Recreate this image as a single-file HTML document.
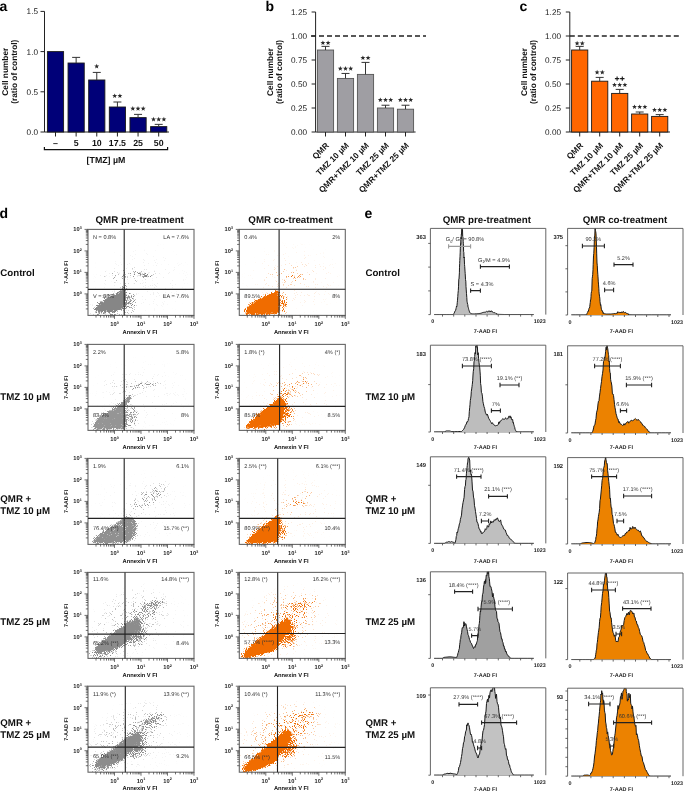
<!DOCTYPE html>
<html><head><meta charset="utf-8"><style>
html,body{margin:0;padding:0;background:#fff;}
body{width:685px;height:791px;overflow:hidden;}
svg{display:block;will-change:transform;}
text{font-family:"Liberation Sans",sans-serif;text-rendering:geometricPrecision;}
</style></head><body>
<svg width="685" height="791" viewBox="0 0 685 791">
<text x="-0.5" y="10.8" font-size="14" text-anchor="start" font-weight="bold" fill="#000" >a</text><text transform="translate(8.2,71.7) rotate(-90)" font-size="8.3" font-weight="bold" text-anchor="middle" fill="#111">Cell number</text><text transform="translate(17.4,71.7) rotate(-90)" font-size="8.3" font-weight="bold" text-anchor="middle" fill="#111">(ratio of control)</text><path d="M44.5 11.4V132H169" stroke="#222" stroke-width="1" fill="none"/><path d="M40.5 11.40H44.5" stroke="#222" stroke-width="1"/><text x="38" y="14.30" font-size="8.2" text-anchor="end" fill="#222" >1.5</text><path d="M40.5 51.60H44.5" stroke="#222" stroke-width="1"/><text x="38" y="54.50" font-size="8.2" text-anchor="end" fill="#222" >1.0</text><path d="M40.5 91.80H44.5" stroke="#222" stroke-width="1"/><text x="38" y="94.70" font-size="8.2" text-anchor="end" fill="#222" >0.5</text><path d="M40.5 132.00H44.5" stroke="#222" stroke-width="1"/><text x="38" y="134.90" font-size="8.2" text-anchor="end" fill="#222" >0.0</text><rect x="47.40" y="51.60" width="16.2" height="80.40" fill="#000078" stroke="#1a1a1a" stroke-width="0.9"/><path d="M55.50 132v4.5" stroke="#222" stroke-width="1"/><rect x="68.04" y="63.02" width="16.2" height="68.98" fill="#000078" stroke="#1a1a1a" stroke-width="0.9"/><path d="M76.14 63.02V57.39M72.14 57.39H80.14" stroke="#333" stroke-width="1"/><path d="M76.14 132v4.5" stroke="#222" stroke-width="1"/><rect x="88.68" y="79.98" width="16.2" height="52.02" fill="#000078" stroke="#1a1a1a" stroke-width="0.9"/><path d="M96.78 79.98V72.42M92.78 72.42H100.78" stroke="#333" stroke-width="1"/><path d="M96.78 132v4.5" stroke="#222" stroke-width="1"/><rect x="109.32" y="107.00" width="16.2" height="25.00" fill="#000078" stroke="#1a1a1a" stroke-width="0.9"/><path d="M117.42 107.00V102.01M113.42 102.01H121.42" stroke="#333" stroke-width="1"/><path d="M117.42 132v4.5" stroke="#222" stroke-width="1"/><rect x="129.96" y="117.61" width="16.2" height="14.39" fill="#000078" stroke="#1a1a1a" stroke-width="0.9"/><path d="M138.06 117.61V114.39M134.06 114.39H142.06" stroke="#333" stroke-width="1"/><path d="M138.06 132v4.5" stroke="#222" stroke-width="1"/><rect x="150.60" y="126.61" width="16.2" height="5.39" fill="#000078" stroke="#1a1a1a" stroke-width="0.9"/><path d="M158.70 126.61V124.36M154.70 124.36H162.70" stroke="#333" stroke-width="1"/><path d="M158.70 132v4.5" stroke="#222" stroke-width="1"/>
<polygon points="96.70,63.80 97.35,65.51 99.17,65.60 97.75,66.74 98.23,68.50 96.70,67.50 95.17,68.50 95.65,66.74 94.23,65.60 96.05,65.51" fill="#2a2a2a"/>
<polygon points="114.70,93.40 115.35,95.11 117.17,95.20 115.75,96.34 116.23,98.10 114.70,97.10 113.17,98.10 113.65,96.34 112.23,95.20 114.05,95.11" fill="#2a2a2a"/><polygon points="119.90,93.40 120.55,95.11 122.37,95.20 120.95,96.34 121.43,98.10 119.90,97.10 118.37,98.10 118.85,96.34 117.43,95.20 119.25,95.11" fill="#2a2a2a"/>
<polygon points="132.80,106.00 133.45,107.71 135.27,107.80 133.85,108.94 134.33,110.70 132.80,109.70 131.27,110.70 131.75,108.94 130.33,107.80 132.15,107.71" fill="#2a2a2a"/><polygon points="138.00,106.00 138.65,107.71 140.47,107.80 139.05,108.94 139.53,110.70 138.00,109.70 136.47,110.70 136.95,108.94 135.53,107.80 137.35,107.71" fill="#2a2a2a"/><polygon points="143.20,106.00 143.85,107.71 145.67,107.80 144.25,108.94 144.73,110.70 143.20,109.70 141.67,110.70 142.15,108.94 140.73,107.80 142.55,107.71" fill="#2a2a2a"/>
<polygon points="153.50,116.80 154.15,118.51 155.97,118.60 154.55,119.74 155.03,121.50 153.50,120.50 151.97,121.50 152.45,119.74 151.03,118.60 152.85,118.51" fill="#2a2a2a"/><polygon points="158.70,116.80 159.35,118.51 161.17,118.60 159.75,119.74 160.23,121.50 158.70,120.50 157.17,121.50 157.65,119.74 156.23,118.60 158.05,118.51" fill="#2a2a2a"/><polygon points="163.90,116.80 164.55,118.51 166.37,118.60 164.95,119.74 165.43,121.50 163.90,120.50 162.37,121.50 162.85,119.74 161.43,118.60 163.25,118.51" fill="#2a2a2a"/>
<text x="55.50" y="146.2" font-size="8.8" text-anchor="middle" font-weight="bold" fill="#111" >–</text>
<text x="76.14" y="146.2" font-size="8.8" text-anchor="middle" font-weight="bold" fill="#111" >5</text>
<text x="96.78" y="146.2" font-size="8.8" text-anchor="middle" font-weight="bold" fill="#111" >10</text>
<text x="117.42" y="146.2" font-size="8.8" text-anchor="middle" font-weight="bold" fill="#111" >17.5</text>
<text x="138.06" y="146.2" font-size="8.8" text-anchor="middle" font-weight="bold" fill="#111" >25</text>
<text x="158.70" y="146.2" font-size="8.8" text-anchor="middle" font-weight="bold" fill="#111" >50</text>
<path d="M44.4 147V149.6H167.6V147" stroke="#111" stroke-width="1.2" fill="none"/>
<text x="106" y="162.6" font-size="8.8" text-anchor="middle" font-weight="bold" fill="#111" >[TMZ] µM</text>
<text x="265.5" y="10.8" font-size="14" text-anchor="start" font-weight="bold" fill="#000" >b</text><text transform="translate(272.6,72.0) rotate(-90)" font-size="8.3" font-weight="bold" text-anchor="middle" fill="#111">Cell number</text><text transform="translate(282,72.0) rotate(-90)" font-size="8.3" font-weight="bold" text-anchor="middle" fill="#111">(ratio of control)</text><path d="M315.6 12V132H415.6" stroke="#222" stroke-width="1" fill="none"/><path d="M311.6 12.00H315.6" stroke="#222" stroke-width="1"/><text x="307" y="14.90" font-size="8.2" text-anchor="end" fill="#222" >1.25</text><path d="M311.6 36.00H315.6" stroke="#222" stroke-width="1"/><text x="307" y="38.90" font-size="8.2" text-anchor="end" fill="#222" >1.00</text><path d="M311.6 60.00H315.6" stroke="#222" stroke-width="1"/><text x="307" y="62.90" font-size="8.2" text-anchor="end" fill="#222" >0.75</text><path d="M311.6 84.00H315.6" stroke="#222" stroke-width="1"/><text x="307" y="86.90" font-size="8.2" text-anchor="end" fill="#222" >0.50</text><path d="M311.6 108.00H315.6" stroke="#222" stroke-width="1"/><text x="307" y="110.90" font-size="8.2" text-anchor="end" fill="#222" >0.25</text><path d="M311.6 132.00H315.6" stroke="#222" stroke-width="1"/><text x="307" y="134.90" font-size="8.2" text-anchor="end" fill="#222" >0.00</text><rect x="317.40" y="50.02" width="16.2" height="81.98" fill="#9f9ea3" stroke="#555" stroke-width="0.9"/><path d="M325.50 50.02V46.37M321.50 46.37H329.50" stroke="#333" stroke-width="1"/><path d="M325.50 132v4.5" stroke="#222" stroke-width="1"/><rect x="337.40" y="78.43" width="16.2" height="53.57" fill="#9f9ea3" stroke="#555" stroke-width="0.9"/><path d="M345.50 78.43V73.44M341.50 73.44H349.50" stroke="#333" stroke-width="1"/><path d="M345.50 132v4.5" stroke="#222" stroke-width="1"/><rect x="357.40" y="74.40" width="16.2" height="57.60" fill="#9f9ea3" stroke="#555" stroke-width="0.9"/><path d="M365.50 74.40V62.40M361.50 62.40H369.50" stroke="#333" stroke-width="1"/><path d="M365.50 132v4.5" stroke="#222" stroke-width="1"/><rect x="377.40" y="108.00" width="16.2" height="24.00" fill="#9f9ea3" stroke="#555" stroke-width="0.9"/><path d="M385.50 108.00V105.22M381.50 105.22H389.50" stroke="#333" stroke-width="1"/><path d="M385.50 132v4.5" stroke="#222" stroke-width="1"/><rect x="397.40" y="109.20" width="16.2" height="22.80" fill="#9f9ea3" stroke="#555" stroke-width="0.9"/><path d="M405.50 109.20V105.22M401.50 105.22H409.50" stroke="#333" stroke-width="1"/><path d="M405.50 132v4.5" stroke="#222" stroke-width="1"/><path d="M311 36H426" stroke="#222" stroke-width="1.4" stroke-dasharray="5,3"/><text transform="translate(329.50,146) rotate(-45)" font-size="8.3" font-weight="bold" text-anchor="end" fill="#111">QMR</text><text transform="translate(349.50,146) rotate(-45)" font-size="8.3" font-weight="bold" text-anchor="end" fill="#111">TMZ 10 µM</text><text transform="translate(369.50,146) rotate(-45)" font-size="8.3" font-weight="bold" text-anchor="end" fill="#111">QMR+TMZ 10 µM</text><text transform="translate(389.50,146) rotate(-45)" font-size="8.3" font-weight="bold" text-anchor="end" fill="#111">TMZ 25 µM</text><text transform="translate(409.50,146) rotate(-45)" font-size="8.3" font-weight="bold" text-anchor="end" fill="#111">QMR+TMZ 25 µM</text><polygon points="322.90,40.40 323.55,42.11 325.37,42.20 323.95,43.34 324.43,45.10 322.90,44.10 321.37,45.10 321.85,43.34 320.43,42.20 322.25,42.11" fill="#2a2a2a"/><polygon points="328.10,40.40 328.75,42.11 330.57,42.20 329.15,43.34 329.63,45.10 328.10,44.10 326.57,45.10 327.05,43.34 325.63,42.20 327.45,42.11" fill="#2a2a2a"/><polygon points="340.30,66.00 340.95,67.71 342.77,67.80 341.35,68.94 341.83,70.70 340.30,69.70 338.77,70.70 339.25,68.94 337.83,67.80 339.65,67.71" fill="#2a2a2a"/><polygon points="345.50,66.00 346.15,67.71 347.97,67.80 346.55,68.94 347.03,70.70 345.50,69.70 343.97,70.70 344.45,68.94 343.03,67.80 344.85,67.71" fill="#2a2a2a"/><polygon points="350.70,66.00 351.35,67.71 353.17,67.80 351.75,68.94 352.23,70.70 350.70,69.70 349.17,70.70 349.65,68.94 348.23,67.80 350.05,67.71" fill="#2a2a2a"/><polygon points="362.90,55.40 363.55,57.11 365.37,57.20 363.95,58.34 364.43,60.10 362.90,59.10 361.37,60.10 361.85,58.34 360.43,57.20 362.25,57.11" fill="#2a2a2a"/><polygon points="368.10,55.40 368.75,57.11 370.57,57.20 369.15,58.34 369.63,60.10 368.10,59.10 366.57,60.10 367.05,58.34 365.63,57.20 367.45,57.11" fill="#2a2a2a"/><polygon points="380.30,97.40 380.95,99.11 382.77,99.20 381.35,100.34 381.83,102.10 380.30,101.10 378.77,102.10 379.25,100.34 377.83,99.20 379.65,99.11" fill="#2a2a2a"/><polygon points="385.50,97.40 386.15,99.11 387.97,99.20 386.55,100.34 387.03,102.10 385.50,101.10 383.97,102.10 384.45,100.34 383.03,99.20 384.85,99.11" fill="#2a2a2a"/><polygon points="390.70,97.40 391.35,99.11 393.17,99.20 391.75,100.34 392.23,102.10 390.70,101.10 389.17,102.10 389.65,100.34 388.23,99.20 390.05,99.11" fill="#2a2a2a"/><polygon points="400.30,97.40 400.95,99.11 402.77,99.20 401.35,100.34 401.83,102.10 400.30,101.10 398.77,102.10 399.25,100.34 397.83,99.20 399.65,99.11" fill="#2a2a2a"/><polygon points="405.50,97.40 406.15,99.11 407.97,99.20 406.55,100.34 407.03,102.10 405.50,101.10 403.97,102.10 404.45,100.34 403.03,99.20 404.85,99.11" fill="#2a2a2a"/><polygon points="410.70,97.40 411.35,99.11 413.17,99.20 411.75,100.34 412.23,102.10 410.70,101.10 409.17,102.10 409.65,100.34 408.23,99.20 410.05,99.11" fill="#2a2a2a"/>
<text x="519.5" y="10.8" font-size="14" text-anchor="start" font-weight="bold" fill="#000" >c</text><text transform="translate(526.5,72.0) rotate(-90)" font-size="8.3" font-weight="bold" text-anchor="middle" fill="#111">Cell number</text><text transform="translate(536,72.0) rotate(-90)" font-size="8.3" font-weight="bold" text-anchor="middle" fill="#111">(ratio of control)</text><path d="M569.8 12V132H670" stroke="#222" stroke-width="1" fill="none"/><path d="M565.8 12.00H569.8" stroke="#222" stroke-width="1"/><text x="561" y="14.90" font-size="8.2" text-anchor="end" fill="#222" >1.25</text><path d="M565.8 36.00H569.8" stroke="#222" stroke-width="1"/><text x="561" y="38.90" font-size="8.2" text-anchor="end" fill="#222" >1.00</text><path d="M565.8 60.00H569.8" stroke="#222" stroke-width="1"/><text x="561" y="62.90" font-size="8.2" text-anchor="end" fill="#222" >0.75</text><path d="M565.8 84.00H569.8" stroke="#222" stroke-width="1"/><text x="561" y="86.90" font-size="8.2" text-anchor="end" fill="#222" >0.50</text><path d="M565.8 108.00H569.8" stroke="#222" stroke-width="1"/><text x="561" y="110.90" font-size="8.2" text-anchor="end" fill="#222" >0.25</text><path d="M565.8 132.00H569.8" stroke="#222" stroke-width="1"/><text x="561" y="134.90" font-size="8.2" text-anchor="end" fill="#222" >0.00</text><rect x="571.60" y="50.00" width="16.2" height="82.00" fill="#ff6600" stroke="#1a1a1a" stroke-width="0.9"/><path d="M579.70 50.00V46.40M575.70 46.40H583.70" stroke="#333" stroke-width="1"/><path d="M579.70 132v4.5" stroke="#222" stroke-width="1"/><rect x="591.60" y="81.20" width="16.2" height="50.80" fill="#ff6600" stroke="#1a1a1a" stroke-width="0.9"/><path d="M599.70 81.20V77.40M595.70 77.40H603.70" stroke="#333" stroke-width="1"/><path d="M599.70 132v4.5" stroke="#222" stroke-width="1"/><rect x="611.60" y="93.40" width="16.2" height="38.60" fill="#ff6600" stroke="#1a1a1a" stroke-width="0.9"/><path d="M619.70 93.40V89.40M615.70 89.40H623.70" stroke="#333" stroke-width="1"/><path d="M619.70 132v4.5" stroke="#222" stroke-width="1"/><rect x="631.60" y="114.00" width="16.2" height="18.00" fill="#ff6600" stroke="#1a1a1a" stroke-width="0.9"/><path d="M639.70 114.00V112.00M635.70 112.00H643.70" stroke="#333" stroke-width="1"/><path d="M639.70 132v4.5" stroke="#222" stroke-width="1"/><rect x="651.60" y="116.40" width="16.2" height="15.60" fill="#ff6600" stroke="#1a1a1a" stroke-width="0.9"/><path d="M659.70 116.40V114.60M655.70 114.60H663.70" stroke="#333" stroke-width="1"/><path d="M659.70 132v4.5" stroke="#222" stroke-width="1"/><path d="M569.8 36H681" stroke="#222" stroke-width="1.4" stroke-dasharray="5,3"/><text transform="translate(583.70,146) rotate(-45)" font-size="8.3" font-weight="bold" text-anchor="end" fill="#111">QMR</text><text transform="translate(603.70,146) rotate(-45)" font-size="8.3" font-weight="bold" text-anchor="end" fill="#111">TMZ 10 µM</text><text transform="translate(623.70,146) rotate(-45)" font-size="8.3" font-weight="bold" text-anchor="end" fill="#111">QMR+TMZ 10 µM</text><text transform="translate(643.70,146) rotate(-45)" font-size="8.3" font-weight="bold" text-anchor="end" fill="#111">TMZ 25 µM</text><text transform="translate(663.70,146) rotate(-45)" font-size="8.3" font-weight="bold" text-anchor="end" fill="#111">QMR+TMZ 25 µM</text><polygon points="577.10,40.80 577.75,42.51 579.57,42.60 578.15,43.74 578.63,45.50 577.10,44.50 575.57,45.50 576.05,43.74 574.63,42.60 576.45,42.51" fill="#2a2a2a"/><polygon points="582.30,40.80 582.95,42.51 584.77,42.60 583.35,43.74 583.83,45.50 582.30,44.50 580.77,45.50 581.25,43.74 579.83,42.60 581.65,42.51" fill="#2a2a2a"/><polygon points="597.10,69.80 597.75,71.51 599.57,71.60 598.15,72.74 598.63,74.50 597.10,73.50 595.57,74.50 596.05,72.74 594.63,71.60 596.45,71.51" fill="#2a2a2a"/><polygon points="602.30,69.80 602.95,71.51 604.77,71.60 603.35,72.74 603.83,74.50 602.30,73.50 600.77,74.50 601.25,72.74 599.83,71.60 601.65,71.51" fill="#2a2a2a"/><path d="M614.90 78.60h4.4M617.10 76.40v4.4" stroke="#1a1a1a" stroke-width="1.1"/><path d="M620.10 78.60h4.4M622.30 76.40v4.4" stroke="#1a1a1a" stroke-width="1.1"/><polygon points="614.50,82.40 615.15,84.11 616.97,84.20 615.55,85.34 616.03,87.10 614.50,86.10 612.97,87.10 613.45,85.34 612.03,84.20 613.85,84.11" fill="#2a2a2a"/><polygon points="619.70,82.40 620.35,84.11 622.17,84.20 620.75,85.34 621.23,87.10 619.70,86.10 618.17,87.10 618.65,85.34 617.23,84.20 619.05,84.11" fill="#2a2a2a"/><polygon points="624.90,82.40 625.55,84.11 627.37,84.20 625.95,85.34 626.43,87.10 624.90,86.10 623.37,87.10 623.85,85.34 622.43,84.20 624.25,84.11" fill="#2a2a2a"/><polygon points="634.50,104.40 635.15,106.11 636.97,106.20 635.55,107.34 636.03,109.10 634.50,108.10 632.97,109.10 633.45,107.34 632.03,106.20 633.85,106.11" fill="#2a2a2a"/><polygon points="639.70,104.40 640.35,106.11 642.17,106.20 640.75,107.34 641.23,109.10 639.70,108.10 638.17,109.10 638.65,107.34 637.23,106.20 639.05,106.11" fill="#2a2a2a"/><polygon points="644.90,104.40 645.55,106.11 647.37,106.20 645.95,107.34 646.43,109.10 644.90,108.10 643.37,109.10 643.85,107.34 642.43,106.20 644.25,106.11" fill="#2a2a2a"/><polygon points="654.50,107.40 655.15,109.11 656.97,109.20 655.55,110.34 656.03,112.10 654.50,111.10 652.97,112.10 653.45,110.34 652.03,109.20 653.85,109.11" fill="#2a2a2a"/><polygon points="659.70,107.40 660.35,109.11 662.17,109.20 660.75,110.34 661.23,112.10 659.70,111.10 658.17,112.10 658.65,110.34 657.23,109.20 659.05,109.11" fill="#2a2a2a"/><polygon points="664.90,107.40 665.55,109.11 667.37,109.20 665.95,110.34 666.43,112.10 664.90,111.10 663.37,112.10 663.85,110.34 662.43,109.20 664.25,109.11" fill="#2a2a2a"/>
<defs>
<radialGradient id="rg"><stop offset="0" stop-opacity="1"/><stop offset=".5" stop-opacity=".75"/><stop offset="1" stop-opacity="0"/></radialGradient>

<filter id="dt00" x="-5%" y="-5%" width="110%" height="110%" color-interpolation-filters="sRGB">
<feTurbulence type="fractalNoise" baseFrequency="1.1" numOctaves="1" seed="3" result="n"/>
<feColorMatrix in="n" type="matrix" values="0 0 0 0 0 0 0 0 0 0 0 0 0 0 0 2.6 0 0 0 -.8" result="na"/>
<feGaussianBlur in="SourceAlpha" stdDeviation="1.1" result="d"/>
<feComposite in="d" in2="na" operator="arithmetic" k1="0" k2="4.4" k3="-3.3" k4="0" result="m"/>
<feGaussianBlur in="m" stdDeviation=".55" result="mb"/>
<feFlood flood-color="#868686"/>
<feComposite in2="mb" operator="in"/>
</filter>
<filter id="dt01" x="-5%" y="-5%" width="110%" height="110%" color-interpolation-filters="sRGB">
<feTurbulence type="fractalNoise" baseFrequency="1.1" numOctaves="1" seed="4" result="n"/>
<feColorMatrix in="n" type="matrix" values="0 0 0 0 0 0 0 0 0 0 0 0 0 0 0 2.6 0 0 0 -.8" result="na"/>
<feGaussianBlur in="SourceAlpha" stdDeviation="1.1" result="d"/>
<feComposite in="d" in2="na" operator="arithmetic" k1="0" k2="4.4" k3="-3.3" k4="0" result="m"/>
<feGaussianBlur in="m" stdDeviation=".55" result="mb"/>
<feFlood flood-color="#f06c00"/>
<feComposite in2="mb" operator="in"/>
</filter>
<filter id="dt10" x="-5%" y="-5%" width="110%" height="110%" color-interpolation-filters="sRGB">
<feTurbulence type="fractalNoise" baseFrequency="1.1" numOctaves="1" seed="5" result="n"/>
<feColorMatrix in="n" type="matrix" values="0 0 0 0 0 0 0 0 0 0 0 0 0 0 0 2.6 0 0 0 -.8" result="na"/>
<feGaussianBlur in="SourceAlpha" stdDeviation="1.1" result="d"/>
<feComposite in="d" in2="na" operator="arithmetic" k1="0" k2="4.4" k3="-3.3" k4="0" result="m"/>
<feGaussianBlur in="m" stdDeviation=".55" result="mb"/>
<feFlood flood-color="#959595"/>
<feComposite in2="mb" operator="in"/>
</filter>
<filter id="dt11" x="-5%" y="-5%" width="110%" height="110%" color-interpolation-filters="sRGB">
<feTurbulence type="fractalNoise" baseFrequency="1.1" numOctaves="1" seed="6" result="n"/>
<feColorMatrix in="n" type="matrix" values="0 0 0 0 0 0 0 0 0 0 0 0 0 0 0 2.6 0 0 0 -.8" result="na"/>
<feGaussianBlur in="SourceAlpha" stdDeviation="1.1" result="d"/>
<feComposite in="d" in2="na" operator="arithmetic" k1="0" k2="4.4" k3="-3.3" k4="0" result="m"/>
<feGaussianBlur in="m" stdDeviation=".55" result="mb"/>
<feFlood flood-color="#f06c00"/>
<feComposite in2="mb" operator="in"/>
</filter>
<filter id="dt20" x="-5%" y="-5%" width="110%" height="110%" color-interpolation-filters="sRGB">
<feTurbulence type="fractalNoise" baseFrequency="1.1" numOctaves="1" seed="7" result="n"/>
<feColorMatrix in="n" type="matrix" values="0 0 0 0 0 0 0 0 0 0 0 0 0 0 0 2.6 0 0 0 -.8" result="na"/>
<feGaussianBlur in="SourceAlpha" stdDeviation="1.1" result="d"/>
<feComposite in="d" in2="na" operator="arithmetic" k1="0" k2="4.4" k3="-3.3" k4="0" result="m"/>
<feGaussianBlur in="m" stdDeviation=".55" result="mb"/>
<feFlood flood-color="#909090"/>
<feComposite in2="mb" operator="in"/>
</filter>
<filter id="dt21" x="-5%" y="-5%" width="110%" height="110%" color-interpolation-filters="sRGB">
<feTurbulence type="fractalNoise" baseFrequency="1.1" numOctaves="1" seed="8" result="n"/>
<feColorMatrix in="n" type="matrix" values="0 0 0 0 0 0 0 0 0 0 0 0 0 0 0 2.6 0 0 0 -.8" result="na"/>
<feGaussianBlur in="SourceAlpha" stdDeviation="1.1" result="d"/>
<feComposite in="d" in2="na" operator="arithmetic" k1="0" k2="4.4" k3="-3.3" k4="0" result="m"/>
<feGaussianBlur in="m" stdDeviation=".55" result="mb"/>
<feFlood flood-color="#f06c00"/>
<feComposite in2="mb" operator="in"/>
</filter>
<filter id="dt30" x="-5%" y="-5%" width="110%" height="110%" color-interpolation-filters="sRGB">
<feTurbulence type="fractalNoise" baseFrequency="1.1" numOctaves="1" seed="9" result="n"/>
<feColorMatrix in="n" type="matrix" values="0 0 0 0 0 0 0 0 0 0 0 0 0 0 0 2.6 0 0 0 -.8" result="na"/>
<feGaussianBlur in="SourceAlpha" stdDeviation="1.1" result="d"/>
<feComposite in="d" in2="na" operator="arithmetic" k1="0" k2="4.4" k3="-3.3" k4="0" result="m"/>
<feGaussianBlur in="m" stdDeviation=".55" result="mb"/>
<feFlood flood-color="#8c8c8c"/>
<feComposite in2="mb" operator="in"/>
</filter>
<filter id="dt31" x="-5%" y="-5%" width="110%" height="110%" color-interpolation-filters="sRGB">
<feTurbulence type="fractalNoise" baseFrequency="1.1" numOctaves="1" seed="10" result="n"/>
<feColorMatrix in="n" type="matrix" values="0 0 0 0 0 0 0 0 0 0 0 0 0 0 0 2.6 0 0 0 -.8" result="na"/>
<feGaussianBlur in="SourceAlpha" stdDeviation="1.1" result="d"/>
<feComposite in="d" in2="na" operator="arithmetic" k1="0" k2="4.4" k3="-3.3" k4="0" result="m"/>
<feGaussianBlur in="m" stdDeviation=".55" result="mb"/>
<feFlood flood-color="#f06c00"/>
<feComposite in2="mb" operator="in"/>
</filter>
<filter id="dt40" x="-5%" y="-5%" width="110%" height="110%" color-interpolation-filters="sRGB">
<feTurbulence type="fractalNoise" baseFrequency="1.1" numOctaves="1" seed="11" result="n"/>
<feColorMatrix in="n" type="matrix" values="0 0 0 0 0 0 0 0 0 0 0 0 0 0 0 2.6 0 0 0 -.8" result="na"/>
<feGaussianBlur in="SourceAlpha" stdDeviation="1.1" result="d"/>
<feComposite in="d" in2="na" operator="arithmetic" k1="0" k2="4.4" k3="-3.3" k4="0" result="m"/>
<feGaussianBlur in="m" stdDeviation=".55" result="mb"/>
<feFlood flood-color="#8c8c8c"/>
<feComposite in2="mb" operator="in"/>
</filter>
<filter id="dt41" x="-5%" y="-5%" width="110%" height="110%" color-interpolation-filters="sRGB">
<feTurbulence type="fractalNoise" baseFrequency="1.1" numOctaves="1" seed="12" result="n"/>
<feColorMatrix in="n" type="matrix" values="0 0 0 0 0 0 0 0 0 0 0 0 0 0 0 2.6 0 0 0 -.8" result="na"/>
<feGaussianBlur in="SourceAlpha" stdDeviation="1.1" result="d"/>
<feComposite in="d" in2="na" operator="arithmetic" k1="0" k2="4.4" k3="-3.3" k4="0" result="m"/>
<feGaussianBlur in="m" stdDeviation=".55" result="mb"/>
<feFlood flood-color="#f06c00"/>
<feComposite in2="mb" operator="in"/>
</filter>
</defs>
<clipPath id="sc00"><rect x="88" y="229.4" width="106" height="86"/></clipPath>
<g clip-path="url(#sc00)"><g filter="url(#dt00)"><rect x="88" y="229.4" width="106" height="86" fill="#000" opacity="0"/><polygon points="95,308.4 98,304.4 104,300.4 111,296.4 118,292.4 122,289.4 125,288.4 126,293.4 125,304.4 122,309.4 113,311.4 100,311.4 95,310.4" opacity="1"/><ellipse cx="0" cy="0" rx="20" ry="3" fill="url(#rg)" opacity="0.35" transform="translate(108,313.4) rotate(0)"/><ellipse cx="0" cy="0" rx="8" ry="14" fill="url(#rg)" opacity="0.5" transform="translate(129,302.4) rotate(0)"/><ellipse cx="0" cy="0" rx="32" ry="9" fill="url(#rg)" opacity="0.2" transform="translate(128,275.4) rotate(-3)"/><ellipse cx="0" cy="0" rx="11" ry="2.8" fill="url(#rg)" opacity="0.6" transform="translate(145,275.4) rotate(15)"/><ellipse cx="0" cy="0" rx="20" ry="11" fill="url(#rg)" opacity="0.4" transform="translate(108,304.4) rotate(-20)"/><ellipse cx="0" cy="0" rx="5" ry="4" fill="url(#rg)" opacity="0.5" transform="translate(124,287.4) rotate(0)"/><ellipse cx="0" cy="0" rx="55" ry="40" fill="url(#rg)" opacity="0.035" transform="translate(143,279.4) rotate(0)"/></g></g>
<rect x="88" y="229.4" width="106" height="86" fill="none" stroke="#666" stroke-width="1.1"/>
<path d="M124.2 229.4V315.4M88 289.4H194" stroke="#222" stroke-width="1.1"/>
<path d="M85.8 308.9H88M96 315.4v2.2M85.8 305.1H88M100.6 315.4v2.2M85.8 302.5H88M104 315.4v2.2M85.8 300.4H88M106.5 315.4v2.2M85.8 298.7H88M108.6 315.4v2.2M85.8 297.2H88M110.4 315.4v2.2M85.8 296H88M111.9 315.4v2.2M85.8 294.9H88M113.3 315.4v2.2M84.5 293.9H88M114.5 315.4v3.5M85.8 287.4H88M122.5 315.4v2.2M85.8 283.6H88M127.1 315.4v2.2M85.8 281H88M130.5 315.4v2.2M85.8 278.9H88M133 315.4v2.2M85.8 277.2H88M135.1 315.4v2.2M85.8 275.7H88M136.9 315.4v2.2M85.8 274.5H88M138.4 315.4v2.2M85.8 273.4H88M139.8 315.4v2.2M84.5 272.4H88M141 315.4v3.5M85.8 265.9H88M149 315.4v2.2M85.8 262.1H88M153.6 315.4v2.2M85.8 259.5H88M157 315.4v2.2M85.8 257.4H88M159.5 315.4v2.2M85.8 255.7H88M161.6 315.4v2.2M85.8 254.2H88M163.4 315.4v2.2M85.8 253H88M164.9 315.4v2.2M85.8 251.9H88M166.3 315.4v2.2M84.5 250.9H88M167.5 315.4v3.5M85.8 244.4H88M175.5 315.4v2.2M85.8 240.6H88M180.1 315.4v2.2M85.8 238H88M183.5 315.4v2.2M85.8 235.9H88M186 315.4v2.2M85.8 234.2H88M188.1 315.4v2.2M85.8 232.7H88M189.9 315.4v2.2M85.8 231.5H88M191.4 315.4v2.2M85.8 230.4H88M192.8 315.4v2.2M84.5 229.4H88M194 315.4v3.5" stroke="#333" stroke-width=".7"/>
<text x="81.7" y="295.9" font-size="5.7" font-weight="bold" text-anchor="end" fill="#222">10<tspan font-size="3.7" dy="-2.3">0</tspan></text>
<text x="114.5" y="325.9" font-size="5.7" font-weight="bold" text-anchor="middle" fill="#222">10<tspan font-size="3.7" dy="-2.3">0</tspan></text>
<text x="81.7" y="274.4" font-size="5.7" font-weight="bold" text-anchor="end" fill="#222">10<tspan font-size="3.7" dy="-2.3">1</tspan></text>
<text x="141" y="325.9" font-size="5.7" font-weight="bold" text-anchor="middle" fill="#222">10<tspan font-size="3.7" dy="-2.3">1</tspan></text>
<text x="81.7" y="252.9" font-size="5.7" font-weight="bold" text-anchor="end" fill="#222">10<tspan font-size="3.7" dy="-2.3">2</tspan></text>
<text x="167.5" y="325.9" font-size="5.7" font-weight="bold" text-anchor="middle" fill="#222">10<tspan font-size="3.7" dy="-2.3">2</tspan></text>
<text x="81.7" y="231.4" font-size="5.7" font-weight="bold" text-anchor="end" fill="#222">10<tspan font-size="3.7" dy="-2.3">3</tspan></text>
<text x="194" y="325.9" font-size="5.7" font-weight="bold" text-anchor="middle" fill="#222">10<tspan font-size="3.7" dy="-2.3">3</tspan></text>
<text x="140" y="333.6" font-size="5.75" font-weight="bold" text-anchor="middle" fill="#111">Annexin V FI</text>
<text transform="translate(67.8,272.4) rotate(-90)" font-size="5.5" font-weight="bold" text-anchor="middle" fill="#222">7-AAD FI</text>
<text x="93" y="239.4" font-size="5.6" fill="#333">N = 0.8%</text>
<text x="189" y="239.4" font-size="5.6" text-anchor="end" fill="#333">LA = 7.6%</text>
<text x="93" y="298.1" font-size="5.6" fill="#333">V = 88%</text>
<text x="189" y="298.1" font-size="5.6" text-anchor="end" fill="#333">EA = 7.6%</text>
<clipPath id="sc01"><rect x="239.3" y="229.4" width="106" height="86"/></clipPath>
<g clip-path="url(#sc01)"><g filter="url(#dt01)"><rect x="239.3" y="229.4" width="106" height="86" fill="#000" opacity="0"/><polygon points="245.3,309.4 249.3,305.4 256.3,300.4 265.3,295.9 274.3,291.4 278.8,290.4 278.8,313.4 264.3,314.4 247.3,314.4 245.3,313.4" opacity="1"/><ellipse cx="0" cy="0" rx="7" ry="13" fill="url(#rg)" opacity="0.45" transform="translate(282.3,303.4) rotate(0)"/><ellipse cx="0" cy="0" rx="28" ry="12" fill="url(#rg)" opacity="0.1" transform="translate(289.3,275.4) rotate(-10)"/><ellipse cx="0" cy="0" rx="10" ry="3.5" fill="url(#rg)" opacity="0.2" transform="translate(295.3,277.4) rotate(12)"/><ellipse cx="0" cy="0" rx="19" ry="10" fill="url(#rg)" opacity="0.4" transform="translate(261.3,305.4) rotate(-20)"/><ellipse cx="0" cy="0" rx="55" ry="40" fill="url(#rg)" opacity="0.035" transform="translate(294.3,279.4) rotate(0)"/></g></g>
<rect x="239.3" y="229.4" width="106" height="86" fill="none" stroke="#666" stroke-width="1.1"/>
<path d="M279.1 229.4V315.4M239.3 289.3H345.3" stroke="#222" stroke-width="1.1"/>
<path d="M237.1 308.9H239.3M247.3 315.4v2.2M237.1 305.1H239.3M251.9 315.4v2.2M237.1 302.5H239.3M255.3 315.4v2.2M237.1 300.4H239.3M257.8 315.4v2.2M237.1 298.7H239.3M259.9 315.4v2.2M237.1 297.2H239.3M261.7 315.4v2.2M237.1 296H239.3M263.2 315.4v2.2M237.1 294.9H239.3M264.6 315.4v2.2M235.8 293.9H239.3M265.8 315.4v3.5M237.1 287.4H239.3M273.8 315.4v2.2M237.1 283.6H239.3M278.4 315.4v2.2M237.1 281H239.3M281.8 315.4v2.2M237.1 278.9H239.3M284.3 315.4v2.2M237.1 277.2H239.3M286.4 315.4v2.2M237.1 275.7H239.3M288.2 315.4v2.2M237.1 274.5H239.3M289.7 315.4v2.2M237.1 273.4H239.3M291.1 315.4v2.2M235.8 272.4H239.3M292.3 315.4v3.5M237.1 265.9H239.3M300.3 315.4v2.2M237.1 262.1H239.3M304.9 315.4v2.2M237.1 259.5H239.3M308.3 315.4v2.2M237.1 257.4H239.3M310.8 315.4v2.2M237.1 255.7H239.3M312.9 315.4v2.2M237.1 254.2H239.3M314.7 315.4v2.2M237.1 253H239.3M316.2 315.4v2.2M237.1 251.9H239.3M317.6 315.4v2.2M235.8 250.9H239.3M318.8 315.4v3.5M237.1 244.4H239.3M326.8 315.4v2.2M237.1 240.6H239.3M331.4 315.4v2.2M237.1 238H239.3M334.8 315.4v2.2M237.1 235.9H239.3M337.3 315.4v2.2M237.1 234.2H239.3M339.4 315.4v2.2M237.1 232.7H239.3M341.2 315.4v2.2M237.1 231.5H239.3M342.7 315.4v2.2M237.1 230.4H239.3M344.1 315.4v2.2M235.8 229.4H239.3M345.3 315.4v3.5" stroke="#333" stroke-width=".7"/>
<text x="233" y="295.9" font-size="5.7" font-weight="bold" text-anchor="end" fill="#222">10<tspan font-size="3.7" dy="-2.3">0</tspan></text>
<text x="265.8" y="325.9" font-size="5.7" font-weight="bold" text-anchor="middle" fill="#222">10<tspan font-size="3.7" dy="-2.3">0</tspan></text>
<text x="233" y="274.4" font-size="5.7" font-weight="bold" text-anchor="end" fill="#222">10<tspan font-size="3.7" dy="-2.3">1</tspan></text>
<text x="292.3" y="325.9" font-size="5.7" font-weight="bold" text-anchor="middle" fill="#222">10<tspan font-size="3.7" dy="-2.3">1</tspan></text>
<text x="233" y="252.9" font-size="5.7" font-weight="bold" text-anchor="end" fill="#222">10<tspan font-size="3.7" dy="-2.3">2</tspan></text>
<text x="318.8" y="325.9" font-size="5.7" font-weight="bold" text-anchor="middle" fill="#222">10<tspan font-size="3.7" dy="-2.3">2</tspan></text>
<text x="233" y="231.4" font-size="5.7" font-weight="bold" text-anchor="end" fill="#222">10<tspan font-size="3.7" dy="-2.3">3</tspan></text>
<text x="345.3" y="325.9" font-size="5.7" font-weight="bold" text-anchor="middle" fill="#222">10<tspan font-size="3.7" dy="-2.3">3</tspan></text>
<text x="291.3" y="333.6" font-size="5.75" font-weight="bold" text-anchor="middle" fill="#111">Annexin V FI</text>
<text transform="translate(219.1,272.4) rotate(-90)" font-size="5.5" font-weight="bold" text-anchor="middle" fill="#222">7-AAD FI</text>
<text x="244.3" y="239.4" font-size="5.6" fill="#333">0.4%</text>
<text x="340.3" y="239.4" font-size="5.6" text-anchor="end" fill="#333">2%</text>
<text x="244.3" y="298" font-size="5.6" fill="#333">89.5%</text>
<text x="340.3" y="298" font-size="5.6" text-anchor="end" fill="#333">8%</text>
<clipPath id="sc10"><rect x="88" y="344.4" width="106" height="86"/></clipPath>
<g clip-path="url(#sc10)"><g filter="url(#dt10)"><rect x="88" y="344.4" width="106" height="86" fill="#000" opacity="0"/><polygon points="93,424.4 97,419.4 105,413.4 113,408.4 120,403.4 125,399.4 129,395.4 132,394.4 130,400.4 126,404.4 126,428.4 113,429.4 96,429.4 93,428.4" opacity="0.9"/><ellipse cx="0" cy="0" rx="10" ry="4" fill="url(#rg)" opacity="0.45" transform="translate(126,400.4) rotate(-40)"/><ellipse cx="0" cy="0" rx="9" ry="14" fill="url(#rg)" opacity="0.5" transform="translate(131,416.4) rotate(0)"/><ellipse cx="0" cy="0" rx="22" ry="6" fill="url(#rg)" opacity="0.28" transform="translate(143,385.4) rotate(-10)"/><ellipse cx="0" cy="0" rx="24" ry="14" fill="url(#rg)" opacity="0.08" transform="translate(123,386.4) rotate(0)"/><ellipse cx="0" cy="0" rx="19" ry="10" fill="url(#rg)" opacity="0.4" transform="translate(108,420.4) rotate(-20)"/><ellipse cx="0" cy="0" rx="55" ry="40" fill="url(#rg)" opacity="0.035" transform="translate(143,394.4) rotate(0)"/></g></g>
<rect x="88" y="344.4" width="106" height="86" fill="none" stroke="#666" stroke-width="1.1"/>
<path d="M124.2 344.4V430.4M88 406.2H194" stroke="#222" stroke-width="1.1"/>
<path d="M85.8 423.9H88M96 430.4v2.2M85.8 420.1H88M100.6 430.4v2.2M85.8 417.5H88M104 430.4v2.2M85.8 415.4H88M106.5 430.4v2.2M85.8 413.7H88M108.6 430.4v2.2M85.8 412.2H88M110.4 430.4v2.2M85.8 411H88M111.9 430.4v2.2M85.8 409.9H88M113.3 430.4v2.2M84.5 408.9H88M114.5 430.4v3.5M85.8 402.4H88M122.5 430.4v2.2M85.8 398.6H88M127.1 430.4v2.2M85.8 396H88M130.5 430.4v2.2M85.8 393.9H88M133 430.4v2.2M85.8 392.2H88M135.1 430.4v2.2M85.8 390.7H88M136.9 430.4v2.2M85.8 389.5H88M138.4 430.4v2.2M85.8 388.4H88M139.8 430.4v2.2M84.5 387.4H88M141 430.4v3.5M85.8 380.9H88M149 430.4v2.2M85.8 377.1H88M153.6 430.4v2.2M85.8 374.5H88M157 430.4v2.2M85.8 372.4H88M159.5 430.4v2.2M85.8 370.7H88M161.6 430.4v2.2M85.8 369.2H88M163.4 430.4v2.2M85.8 368H88M164.9 430.4v2.2M85.8 366.9H88M166.3 430.4v2.2M84.5 365.9H88M167.5 430.4v3.5M85.8 359.4H88M175.5 430.4v2.2M85.8 355.6H88M180.1 430.4v2.2M85.8 353H88M183.5 430.4v2.2M85.8 350.9H88M186 430.4v2.2M85.8 349.2H88M188.1 430.4v2.2M85.8 347.7H88M189.9 430.4v2.2M85.8 346.5H88M191.4 430.4v2.2M85.8 345.4H88M192.8 430.4v2.2M84.5 344.4H88M194 430.4v3.5" stroke="#333" stroke-width=".7"/>
<text x="81.7" y="410.9" font-size="5.7" font-weight="bold" text-anchor="end" fill="#222">10<tspan font-size="3.7" dy="-2.3">0</tspan></text>
<text x="114.5" y="440.9" font-size="5.7" font-weight="bold" text-anchor="middle" fill="#222">10<tspan font-size="3.7" dy="-2.3">0</tspan></text>
<text x="81.7" y="389.4" font-size="5.7" font-weight="bold" text-anchor="end" fill="#222">10<tspan font-size="3.7" dy="-2.3">1</tspan></text>
<text x="141" y="440.9" font-size="5.7" font-weight="bold" text-anchor="middle" fill="#222">10<tspan font-size="3.7" dy="-2.3">1</tspan></text>
<text x="81.7" y="367.9" font-size="5.7" font-weight="bold" text-anchor="end" fill="#222">10<tspan font-size="3.7" dy="-2.3">2</tspan></text>
<text x="167.5" y="440.9" font-size="5.7" font-weight="bold" text-anchor="middle" fill="#222">10<tspan font-size="3.7" dy="-2.3">2</tspan></text>
<text x="81.7" y="346.4" font-size="5.7" font-weight="bold" text-anchor="end" fill="#222">10<tspan font-size="3.7" dy="-2.3">3</tspan></text>
<text x="194" y="440.9" font-size="5.7" font-weight="bold" text-anchor="middle" fill="#222">10<tspan font-size="3.7" dy="-2.3">3</tspan></text>
<text x="140" y="448.6" font-size="5.75" font-weight="bold" text-anchor="middle" fill="#111">Annexin V FI</text>
<text transform="translate(67.8,387.4) rotate(-90)" font-size="5.5" font-weight="bold" text-anchor="middle" fill="#222">7-AAD FI</text>
<text x="93" y="353.6" font-size="5.6" fill="#333">2.2%</text>
<text x="189" y="353.6" font-size="5.6" text-anchor="end" fill="#333">5.8%</text>
<text x="93" y="417" font-size="5.6" fill="#333">83.9%</text>
<text x="189" y="417" font-size="5.6" text-anchor="end" fill="#333">8%</text>
<clipPath id="sc11"><rect x="239.3" y="344.4" width="106" height="86"/></clipPath>
<g clip-path="url(#sc11)"><g filter="url(#dt11)"><rect x="239.3" y="344.4" width="106" height="86" fill="#000" opacity="0"/><polygon points="245.3,426.4 251.3,420.4 259.3,413.4 267.3,407.4 274.3,401.4 279.6,396.9 283.3,398.4 285.3,406.4 283.3,416.4 279.6,424.4 264.3,426.4 245.3,428.4" opacity="1"/><ellipse cx="0" cy="0" rx="18" ry="4" fill="url(#rg)" opacity="0.5" transform="translate(263.3,426.4) rotate(0)"/><ellipse cx="0" cy="0" rx="20" ry="11" fill="url(#rg)" opacity="0.45" transform="translate(263.3,418.4) rotate(-35)"/><ellipse cx="0" cy="0" rx="9" ry="16" fill="url(#rg)" opacity="0.55" transform="translate(286.3,412.4) rotate(0)"/><ellipse cx="0" cy="0" rx="12" ry="7" fill="url(#rg)" opacity="0.3" transform="translate(286.3,393.4) rotate(-40)"/><ellipse cx="0" cy="0" rx="32" ry="14" fill="url(#rg)" opacity="0.13" transform="translate(293.3,386.4) rotate(-20)"/><ellipse cx="0" cy="0" rx="12" ry="5" fill="url(#rg)" opacity="0.1" transform="translate(303.3,382.4) rotate(-10)"/><ellipse cx="0" cy="0" rx="55" ry="40" fill="url(#rg)" opacity="0.035" transform="translate(294.3,394.4) rotate(0)"/></g></g>
<rect x="239.3" y="344.4" width="106" height="86" fill="none" stroke="#666" stroke-width="1.1"/>
<path d="M279.6 344.4V430.4M239.3 406.4H345.3" stroke="#222" stroke-width="1.1"/>
<path d="M237.1 423.9H239.3M247.3 430.4v2.2M237.1 420.1H239.3M251.9 430.4v2.2M237.1 417.5H239.3M255.3 430.4v2.2M237.1 415.4H239.3M257.8 430.4v2.2M237.1 413.7H239.3M259.9 430.4v2.2M237.1 412.2H239.3M261.7 430.4v2.2M237.1 411H239.3M263.2 430.4v2.2M237.1 409.9H239.3M264.6 430.4v2.2M235.8 408.9H239.3M265.8 430.4v3.5M237.1 402.4H239.3M273.8 430.4v2.2M237.1 398.6H239.3M278.4 430.4v2.2M237.1 396H239.3M281.8 430.4v2.2M237.1 393.9H239.3M284.3 430.4v2.2M237.1 392.2H239.3M286.4 430.4v2.2M237.1 390.7H239.3M288.2 430.4v2.2M237.1 389.5H239.3M289.7 430.4v2.2M237.1 388.4H239.3M291.1 430.4v2.2M235.8 387.4H239.3M292.3 430.4v3.5M237.1 380.9H239.3M300.3 430.4v2.2M237.1 377.1H239.3M304.9 430.4v2.2M237.1 374.5H239.3M308.3 430.4v2.2M237.1 372.4H239.3M310.8 430.4v2.2M237.1 370.7H239.3M312.9 430.4v2.2M237.1 369.2H239.3M314.7 430.4v2.2M237.1 368H239.3M316.2 430.4v2.2M237.1 366.9H239.3M317.6 430.4v2.2M235.8 365.9H239.3M318.8 430.4v3.5M237.1 359.4H239.3M326.8 430.4v2.2M237.1 355.6H239.3M331.4 430.4v2.2M237.1 353H239.3M334.8 430.4v2.2M237.1 350.9H239.3M337.3 430.4v2.2M237.1 349.2H239.3M339.4 430.4v2.2M237.1 347.7H239.3M341.2 430.4v2.2M237.1 346.5H239.3M342.7 430.4v2.2M237.1 345.4H239.3M344.1 430.4v2.2M235.8 344.4H239.3M345.3 430.4v3.5" stroke="#333" stroke-width=".7"/>
<text x="233" y="410.9" font-size="5.7" font-weight="bold" text-anchor="end" fill="#222">10<tspan font-size="3.7" dy="-2.3">0</tspan></text>
<text x="265.8" y="440.9" font-size="5.7" font-weight="bold" text-anchor="middle" fill="#222">10<tspan font-size="3.7" dy="-2.3">0</tspan></text>
<text x="233" y="389.4" font-size="5.7" font-weight="bold" text-anchor="end" fill="#222">10<tspan font-size="3.7" dy="-2.3">1</tspan></text>
<text x="292.3" y="440.9" font-size="5.7" font-weight="bold" text-anchor="middle" fill="#222">10<tspan font-size="3.7" dy="-2.3">1</tspan></text>
<text x="233" y="367.9" font-size="5.7" font-weight="bold" text-anchor="end" fill="#222">10<tspan font-size="3.7" dy="-2.3">2</tspan></text>
<text x="318.8" y="440.9" font-size="5.7" font-weight="bold" text-anchor="middle" fill="#222">10<tspan font-size="3.7" dy="-2.3">2</tspan></text>
<text x="233" y="346.4" font-size="5.7" font-weight="bold" text-anchor="end" fill="#222">10<tspan font-size="3.7" dy="-2.3">3</tspan></text>
<text x="345.3" y="440.9" font-size="5.7" font-weight="bold" text-anchor="middle" fill="#222">10<tspan font-size="3.7" dy="-2.3">3</tspan></text>
<text x="291.3" y="448.6" font-size="5.75" font-weight="bold" text-anchor="middle" fill="#111">Annexin V FI</text>
<text transform="translate(219.1,387.4) rotate(-90)" font-size="5.5" font-weight="bold" text-anchor="middle" fill="#222">7-AAD FI</text>
<text x="244.3" y="353.6" font-size="5.6" fill="#333">1.8% (*)</text>
<text x="340.3" y="353.6" font-size="5.6" text-anchor="end" fill="#333">4% (*)</text>
<text x="244.3" y="417.2" font-size="5.6" fill="#333">85.8%</text>
<text x="340.3" y="417.2" font-size="5.6" text-anchor="end" fill="#333">8.5%</text>
<clipPath id="sc20"><rect x="88" y="458.4" width="106" height="86"/></clipPath>
<g clip-path="url(#sc20)"><g filter="url(#dt20)"><rect x="88" y="458.4" width="106" height="86" fill="#000" opacity="0"/><polygon points="93,540.4 98,535.4 106,529.4 114,524.4 121,519.4 125,516.4 130,516.4 135,520.4 137,528.4 134,536.4 128,542.4 108,543.4 93,543.4" opacity="0.8"/><ellipse cx="0" cy="0" rx="20" ry="9" fill="url(#rg)" opacity="0.5" transform="translate(110,536.4) rotate(-20)"/><ellipse cx="0" cy="0" rx="8" ry="14" fill="url(#rg)" opacity="0.4" transform="translate(132,528.4) rotate(0)"/><ellipse cx="0" cy="0" rx="28" ry="12" fill="url(#rg)" opacity="0.24" transform="translate(148,498.4) rotate(-35)"/><ellipse cx="0" cy="0" rx="10" ry="5" fill="url(#rg)" opacity="0.15" transform="translate(156,492.4) rotate(-20)"/><ellipse cx="0" cy="0" rx="55" ry="40" fill="url(#rg)" opacity="0.035" transform="translate(143,508.4) rotate(0)"/></g></g>
<rect x="88" y="458.4" width="106" height="86" fill="none" stroke="#666" stroke-width="1.1"/>
<path d="M124.2 458.4V544.4M88 518.4H194" stroke="#222" stroke-width="1.1"/>
<path d="M85.8 537.9H88M96 544.4v2.2M85.8 534.1H88M100.6 544.4v2.2M85.8 531.5H88M104 544.4v2.2M85.8 529.4H88M106.5 544.4v2.2M85.8 527.7H88M108.6 544.4v2.2M85.8 526.2H88M110.4 544.4v2.2M85.8 525H88M111.9 544.4v2.2M85.8 523.9H88M113.3 544.4v2.2M84.5 522.9H88M114.5 544.4v3.5M85.8 516.4H88M122.5 544.4v2.2M85.8 512.6H88M127.1 544.4v2.2M85.8 510H88M130.5 544.4v2.2M85.8 507.9H88M133 544.4v2.2M85.8 506.2H88M135.1 544.4v2.2M85.8 504.7H88M136.9 544.4v2.2M85.8 503.5H88M138.4 544.4v2.2M85.8 502.4H88M139.8 544.4v2.2M84.5 501.4H88M141 544.4v3.5M85.8 494.9H88M149 544.4v2.2M85.8 491.1H88M153.6 544.4v2.2M85.8 488.5H88M157 544.4v2.2M85.8 486.4H88M159.5 544.4v2.2M85.8 484.7H88M161.6 544.4v2.2M85.8 483.2H88M163.4 544.4v2.2M85.8 482H88M164.9 544.4v2.2M85.8 480.9H88M166.3 544.4v2.2M84.5 479.9H88M167.5 544.4v3.5M85.8 473.4H88M175.5 544.4v2.2M85.8 469.6H88M180.1 544.4v2.2M85.8 467H88M183.5 544.4v2.2M85.8 464.9H88M186 544.4v2.2M85.8 463.2H88M188.1 544.4v2.2M85.8 461.7H88M189.9 544.4v2.2M85.8 460.5H88M191.4 544.4v2.2M85.8 459.4H88M192.8 544.4v2.2M84.5 458.4H88M194 544.4v3.5" stroke="#333" stroke-width=".7"/>
<text x="81.7" y="524.9" font-size="5.7" font-weight="bold" text-anchor="end" fill="#222">10<tspan font-size="3.7" dy="-2.3">0</tspan></text>
<text x="114.5" y="554.9" font-size="5.7" font-weight="bold" text-anchor="middle" fill="#222">10<tspan font-size="3.7" dy="-2.3">0</tspan></text>
<text x="81.7" y="503.4" font-size="5.7" font-weight="bold" text-anchor="end" fill="#222">10<tspan font-size="3.7" dy="-2.3">1</tspan></text>
<text x="141" y="554.9" font-size="5.7" font-weight="bold" text-anchor="middle" fill="#222">10<tspan font-size="3.7" dy="-2.3">1</tspan></text>
<text x="81.7" y="481.9" font-size="5.7" font-weight="bold" text-anchor="end" fill="#222">10<tspan font-size="3.7" dy="-2.3">2</tspan></text>
<text x="167.5" y="554.9" font-size="5.7" font-weight="bold" text-anchor="middle" fill="#222">10<tspan font-size="3.7" dy="-2.3">2</tspan></text>
<text x="81.7" y="460.4" font-size="5.7" font-weight="bold" text-anchor="end" fill="#222">10<tspan font-size="3.7" dy="-2.3">3</tspan></text>
<text x="194" y="554.9" font-size="5.7" font-weight="bold" text-anchor="middle" fill="#222">10<tspan font-size="3.7" dy="-2.3">3</tspan></text>
<text x="140" y="562.6" font-size="5.75" font-weight="bold" text-anchor="middle" fill="#111">Annexin V FI</text>
<text transform="translate(67.8,501.4) rotate(-90)" font-size="5.5" font-weight="bold" text-anchor="middle" fill="#222">7-AAD FI</text>
<text x="93" y="467.6" font-size="5.6" fill="#333">1.9%</text>
<text x="189" y="467.6" font-size="5.6" text-anchor="end" fill="#333">6.1%</text>
<text x="93" y="529.9" font-size="5.6" fill="#333">76.4% (**)</text>
<text x="189" y="529.9" font-size="5.6" text-anchor="end" fill="#333">15.7% (**)</text>
<clipPath id="sc21"><rect x="239.3" y="458.4" width="106" height="86"/></clipPath>
<g clip-path="url(#sc21)"><g filter="url(#dt21)"><rect x="239.3" y="458.4" width="106" height="86" fill="#000" opacity="0"/><polygon points="245.3,542.4 251.3,536.4 259.3,529.4 267.3,523.4 273.3,518.4 277.7,515.4 280.3,518.4 279.3,533.4 277.7,542.4 259.3,543.4 245.3,543.4" opacity="1"/><ellipse cx="0" cy="0" rx="20" ry="11" fill="url(#rg)" opacity="0.45" transform="translate(263.3,532.4) rotate(-30)"/><ellipse cx="0" cy="0" rx="7" ry="13" fill="url(#rg)" opacity="0.45" transform="translate(282.3,530.4) rotate(0)"/><ellipse cx="0" cy="0" rx="28" ry="10" fill="url(#rg)" opacity="0.15" transform="translate(295.3,502.4) rotate(-28)"/><ellipse cx="0" cy="0" rx="9" ry="3" fill="url(#rg)" opacity="0.22" transform="translate(301.3,501.4) rotate(0)"/><ellipse cx="0" cy="0" rx="55" ry="40" fill="url(#rg)" opacity="0.035" transform="translate(294.3,508.4) rotate(0)"/></g></g>
<rect x="239.3" y="458.4" width="106" height="86" fill="none" stroke="#666" stroke-width="1.1"/>
<path d="M277.7 458.4V544.4M239.3 518.4H345.3" stroke="#222" stroke-width="1.1"/>
<path d="M237.1 537.9H239.3M247.3 544.4v2.2M237.1 534.1H239.3M251.9 544.4v2.2M237.1 531.5H239.3M255.3 544.4v2.2M237.1 529.4H239.3M257.8 544.4v2.2M237.1 527.7H239.3M259.9 544.4v2.2M237.1 526.2H239.3M261.7 544.4v2.2M237.1 525H239.3M263.2 544.4v2.2M237.1 523.9H239.3M264.6 544.4v2.2M235.8 522.9H239.3M265.8 544.4v3.5M237.1 516.4H239.3M273.8 544.4v2.2M237.1 512.6H239.3M278.4 544.4v2.2M237.1 510H239.3M281.8 544.4v2.2M237.1 507.9H239.3M284.3 544.4v2.2M237.1 506.2H239.3M286.4 544.4v2.2M237.1 504.7H239.3M288.2 544.4v2.2M237.1 503.5H239.3M289.7 544.4v2.2M237.1 502.4H239.3M291.1 544.4v2.2M235.8 501.4H239.3M292.3 544.4v3.5M237.1 494.9H239.3M300.3 544.4v2.2M237.1 491.1H239.3M304.9 544.4v2.2M237.1 488.5H239.3M308.3 544.4v2.2M237.1 486.4H239.3M310.8 544.4v2.2M237.1 484.7H239.3M312.9 544.4v2.2M237.1 483.2H239.3M314.7 544.4v2.2M237.1 482H239.3M316.2 544.4v2.2M237.1 480.9H239.3M317.6 544.4v2.2M235.8 479.9H239.3M318.8 544.4v3.5M237.1 473.4H239.3M326.8 544.4v2.2M237.1 469.6H239.3M331.4 544.4v2.2M237.1 467H239.3M334.8 544.4v2.2M237.1 464.9H239.3M337.3 544.4v2.2M237.1 463.2H239.3M339.4 544.4v2.2M237.1 461.7H239.3M341.2 544.4v2.2M237.1 460.5H239.3M342.7 544.4v2.2M237.1 459.4H239.3M344.1 544.4v2.2M235.8 458.4H239.3M345.3 544.4v3.5" stroke="#333" stroke-width=".7"/>
<text x="233" y="524.9" font-size="5.7" font-weight="bold" text-anchor="end" fill="#222">10<tspan font-size="3.7" dy="-2.3">0</tspan></text>
<text x="265.8" y="554.9" font-size="5.7" font-weight="bold" text-anchor="middle" fill="#222">10<tspan font-size="3.7" dy="-2.3">0</tspan></text>
<text x="233" y="503.4" font-size="5.7" font-weight="bold" text-anchor="end" fill="#222">10<tspan font-size="3.7" dy="-2.3">1</tspan></text>
<text x="292.3" y="554.9" font-size="5.7" font-weight="bold" text-anchor="middle" fill="#222">10<tspan font-size="3.7" dy="-2.3">1</tspan></text>
<text x="233" y="481.9" font-size="5.7" font-weight="bold" text-anchor="end" fill="#222">10<tspan font-size="3.7" dy="-2.3">2</tspan></text>
<text x="318.8" y="554.9" font-size="5.7" font-weight="bold" text-anchor="middle" fill="#222">10<tspan font-size="3.7" dy="-2.3">2</tspan></text>
<text x="233" y="460.4" font-size="5.7" font-weight="bold" text-anchor="end" fill="#222">10<tspan font-size="3.7" dy="-2.3">3</tspan></text>
<text x="345.3" y="554.9" font-size="5.7" font-weight="bold" text-anchor="middle" fill="#222">10<tspan font-size="3.7" dy="-2.3">3</tspan></text>
<text x="291.3" y="562.6" font-size="5.75" font-weight="bold" text-anchor="middle" fill="#111">Annexin V FI</text>
<text transform="translate(219.1,501.4) rotate(-90)" font-size="5.5" font-weight="bold" text-anchor="middle" fill="#222">7-AAD FI</text>
<text x="244.3" y="467.6" font-size="5.6" fill="#333">2.5% (**)</text>
<text x="340.3" y="467.6" font-size="5.6" text-anchor="end" fill="#333">6.1% (***)</text>
<text x="244.3" y="529.9" font-size="5.6" fill="#333">80.9% (**)</text>
<text x="340.3" y="529.9" font-size="5.6" text-anchor="end" fill="#333">10.4%</text>
<clipPath id="sc30"><rect x="88" y="572.4" width="106" height="86"/></clipPath>
<g clip-path="url(#sc30)"><g filter="url(#dt30)"><rect x="88" y="572.4" width="106" height="86" fill="#000" opacity="0"/><polygon points="96,646.4 103,640.4 112,633.4 121,627.4 128,622.4 136,618.4 140,620.4 140,627.4 134,633.4 128,638.4 125,644.4 116,648.4 106,650.4 96,651.4" opacity="0.95"/><ellipse cx="0" cy="0" rx="22" ry="11" fill="url(#rg)" opacity="0.6" transform="translate(106,648.4) rotate(-25)"/><ellipse cx="0" cy="0" rx="16" ry="11" fill="url(#rg)" opacity="0.45" transform="translate(135,632.4) rotate(-35)"/><ellipse cx="0" cy="0" rx="14" ry="12" fill="url(#rg)" opacity="0.4" transform="translate(136,636.4) rotate(-20)"/><ellipse cx="0" cy="0" rx="28" ry="10" fill="url(#rg)" opacity="0.3" transform="translate(146,612.4) rotate(-32)"/><ellipse cx="0" cy="0" rx="14" ry="3.5" fill="url(#rg)" opacity="0.45" transform="translate(152,604.4) rotate(-15)"/><ellipse cx="0" cy="0" rx="50" ry="34" fill="url(#rg)" opacity="0.15" transform="translate(128,622.4) rotate(-35)"/><ellipse cx="0" cy="0" rx="55" ry="40" fill="url(#rg)" opacity="0.035" transform="translate(143,622.4) rotate(0)"/></g></g>
<rect x="88" y="572.4" width="106" height="86" fill="none" stroke="#666" stroke-width="1.1"/>
<path d="M125 572.4V658.4M88 634.1H194" stroke="#222" stroke-width="1.1"/>
<path d="M85.8 651.9H88M96 658.4v2.2M85.8 648.1H88M100.6 658.4v2.2M85.8 645.5H88M104 658.4v2.2M85.8 643.4H88M106.5 658.4v2.2M85.8 641.7H88M108.6 658.4v2.2M85.8 640.2H88M110.4 658.4v2.2M85.8 639H88M111.9 658.4v2.2M85.8 637.9H88M113.3 658.4v2.2M84.5 636.9H88M114.5 658.4v3.5M85.8 630.4H88M122.5 658.4v2.2M85.8 626.6H88M127.1 658.4v2.2M85.8 624H88M130.5 658.4v2.2M85.8 621.9H88M133 658.4v2.2M85.8 620.2H88M135.1 658.4v2.2M85.8 618.7H88M136.9 658.4v2.2M85.8 617.5H88M138.4 658.4v2.2M85.8 616.4H88M139.8 658.4v2.2M84.5 615.4H88M141 658.4v3.5M85.8 608.9H88M149 658.4v2.2M85.8 605.1H88M153.6 658.4v2.2M85.8 602.5H88M157 658.4v2.2M85.8 600.4H88M159.5 658.4v2.2M85.8 598.7H88M161.6 658.4v2.2M85.8 597.2H88M163.4 658.4v2.2M85.8 596H88M164.9 658.4v2.2M85.8 594.9H88M166.3 658.4v2.2M84.5 593.9H88M167.5 658.4v3.5M85.8 587.4H88M175.5 658.4v2.2M85.8 583.6H88M180.1 658.4v2.2M85.8 581H88M183.5 658.4v2.2M85.8 578.9H88M186 658.4v2.2M85.8 577.2H88M188.1 658.4v2.2M85.8 575.7H88M189.9 658.4v2.2M85.8 574.5H88M191.4 658.4v2.2M85.8 573.4H88M192.8 658.4v2.2M84.5 572.4H88M194 658.4v3.5" stroke="#333" stroke-width=".7"/>
<text x="81.7" y="638.9" font-size="5.7" font-weight="bold" text-anchor="end" fill="#222">10<tspan font-size="3.7" dy="-2.3">0</tspan></text>
<text x="114.5" y="668.9" font-size="5.7" font-weight="bold" text-anchor="middle" fill="#222">10<tspan font-size="3.7" dy="-2.3">0</tspan></text>
<text x="81.7" y="617.4" font-size="5.7" font-weight="bold" text-anchor="end" fill="#222">10<tspan font-size="3.7" dy="-2.3">1</tspan></text>
<text x="141" y="668.9" font-size="5.7" font-weight="bold" text-anchor="middle" fill="#222">10<tspan font-size="3.7" dy="-2.3">1</tspan></text>
<text x="81.7" y="595.9" font-size="5.7" font-weight="bold" text-anchor="end" fill="#222">10<tspan font-size="3.7" dy="-2.3">2</tspan></text>
<text x="167.5" y="668.9" font-size="5.7" font-weight="bold" text-anchor="middle" fill="#222">10<tspan font-size="3.7" dy="-2.3">2</tspan></text>
<text x="81.7" y="574.4" font-size="5.7" font-weight="bold" text-anchor="end" fill="#222">10<tspan font-size="3.7" dy="-2.3">3</tspan></text>
<text x="194" y="668.9" font-size="5.7" font-weight="bold" text-anchor="middle" fill="#222">10<tspan font-size="3.7" dy="-2.3">3</tspan></text>
<text x="140" y="676.6" font-size="5.75" font-weight="bold" text-anchor="middle" fill="#111">Annexin V FI</text>
<text transform="translate(67.8,615.4) rotate(-90)" font-size="5.5" font-weight="bold" text-anchor="middle" fill="#222">7-AAD FI</text>
<text x="93" y="581" font-size="5.6" fill="#333">11.6%</text>
<text x="189" y="581" font-size="5.6" text-anchor="end" fill="#333">14.8% (***)</text>
<text x="93" y="645" font-size="5.6" fill="#333">65.2% (**)</text>
<text x="189" y="645" font-size="5.6" text-anchor="end" fill="#333">8.4%</text>
<clipPath id="sc31"><rect x="239.3" y="572.4" width="106" height="86"/></clipPath>
<g clip-path="url(#sc31)"><g filter="url(#dt31)"><rect x="239.3" y="572.4" width="106" height="86" fill="#000" opacity="0"/><polygon points="243.3,654.4 249.3,647.4 257.3,640.4 265.3,633.4 273.3,627.4 280.3,622.4 287.3,618.4 291.3,622.4 289.3,630.4 284.3,636.4 279.3,642.4 277.3,649.4 269.3,652.4 259.3,655.4 247.3,657.4 243.3,657.4" opacity="1"/><ellipse cx="0" cy="0" rx="16" ry="8" fill="url(#rg)" opacity="0.55" transform="translate(251.3,652.4) rotate(-30)"/><ellipse cx="0" cy="0" rx="14" ry="11" fill="url(#rg)" opacity="0.5" transform="translate(287.3,632.4) rotate(-35)"/><ellipse cx="0" cy="0" rx="13" ry="12" fill="url(#rg)" opacity="0.4" transform="translate(287.3,638.4) rotate(-20)"/><ellipse cx="0" cy="0" rx="32" ry="14" fill="url(#rg)" opacity="0.18" transform="translate(295.3,612.4) rotate(-30)"/><ellipse cx="0" cy="0" rx="16" ry="5" fill="url(#rg)" opacity="0.14" transform="translate(303.3,604.4) rotate(-25)"/><ellipse cx="0" cy="0" rx="50" ry="32" fill="url(#rg)" opacity="0.15" transform="translate(279.3,622.4) rotate(-35)"/><ellipse cx="0" cy="0" rx="55" ry="40" fill="url(#rg)" opacity="0.035" transform="translate(294.3,622.4) rotate(0)"/></g></g>
<rect x="239.3" y="572.4" width="106" height="86" fill="none" stroke="#666" stroke-width="1.1"/>
<path d="M277.7 572.4V658.4M239.3 633.5H345.3" stroke="#222" stroke-width="1.1"/>
<path d="M237.1 651.9H239.3M247.3 658.4v2.2M237.1 648.1H239.3M251.9 658.4v2.2M237.1 645.5H239.3M255.3 658.4v2.2M237.1 643.4H239.3M257.8 658.4v2.2M237.1 641.7H239.3M259.9 658.4v2.2M237.1 640.2H239.3M261.7 658.4v2.2M237.1 639H239.3M263.2 658.4v2.2M237.1 637.9H239.3M264.6 658.4v2.2M235.8 636.9H239.3M265.8 658.4v3.5M237.1 630.4H239.3M273.8 658.4v2.2M237.1 626.6H239.3M278.4 658.4v2.2M237.1 624H239.3M281.8 658.4v2.2M237.1 621.9H239.3M284.3 658.4v2.2M237.1 620.2H239.3M286.4 658.4v2.2M237.1 618.7H239.3M288.2 658.4v2.2M237.1 617.5H239.3M289.7 658.4v2.2M237.1 616.4H239.3M291.1 658.4v2.2M235.8 615.4H239.3M292.3 658.4v3.5M237.1 608.9H239.3M300.3 658.4v2.2M237.1 605.1H239.3M304.9 658.4v2.2M237.1 602.5H239.3M308.3 658.4v2.2M237.1 600.4H239.3M310.8 658.4v2.2M237.1 598.7H239.3M312.9 658.4v2.2M237.1 597.2H239.3M314.7 658.4v2.2M237.1 596H239.3M316.2 658.4v2.2M237.1 594.9H239.3M317.6 658.4v2.2M235.8 593.9H239.3M318.8 658.4v3.5M237.1 587.4H239.3M326.8 658.4v2.2M237.1 583.6H239.3M331.4 658.4v2.2M237.1 581H239.3M334.8 658.4v2.2M237.1 578.9H239.3M337.3 658.4v2.2M237.1 577.2H239.3M339.4 658.4v2.2M237.1 575.7H239.3M341.2 658.4v2.2M237.1 574.5H239.3M342.7 658.4v2.2M237.1 573.4H239.3M344.1 658.4v2.2M235.8 572.4H239.3M345.3 658.4v3.5" stroke="#333" stroke-width=".7"/>
<text x="233" y="638.9" font-size="5.7" font-weight="bold" text-anchor="end" fill="#222">10<tspan font-size="3.7" dy="-2.3">0</tspan></text>
<text x="265.8" y="668.9" font-size="5.7" font-weight="bold" text-anchor="middle" fill="#222">10<tspan font-size="3.7" dy="-2.3">0</tspan></text>
<text x="233" y="617.4" font-size="5.7" font-weight="bold" text-anchor="end" fill="#222">10<tspan font-size="3.7" dy="-2.3">1</tspan></text>
<text x="292.3" y="668.9" font-size="5.7" font-weight="bold" text-anchor="middle" fill="#222">10<tspan font-size="3.7" dy="-2.3">1</tspan></text>
<text x="233" y="595.9" font-size="5.7" font-weight="bold" text-anchor="end" fill="#222">10<tspan font-size="3.7" dy="-2.3">2</tspan></text>
<text x="318.8" y="668.9" font-size="5.7" font-weight="bold" text-anchor="middle" fill="#222">10<tspan font-size="3.7" dy="-2.3">2</tspan></text>
<text x="233" y="574.4" font-size="5.7" font-weight="bold" text-anchor="end" fill="#222">10<tspan font-size="3.7" dy="-2.3">3</tspan></text>
<text x="345.3" y="668.9" font-size="5.7" font-weight="bold" text-anchor="middle" fill="#222">10<tspan font-size="3.7" dy="-2.3">3</tspan></text>
<text x="291.3" y="676.6" font-size="5.75" font-weight="bold" text-anchor="middle" fill="#111">Annexin V FI</text>
<text transform="translate(219.1,615.4) rotate(-90)" font-size="5.5" font-weight="bold" text-anchor="middle" fill="#222">7-AAD FI</text>
<text x="244.3" y="581" font-size="5.6" fill="#333">12.8% (*)</text>
<text x="340.3" y="581" font-size="5.6" text-anchor="end" fill="#333">16.2% (***)</text>
<text x="244.3" y="644.4" font-size="5.6" fill="#333">57.7% (****)</text>
<text x="340.3" y="644.4" font-size="5.6" text-anchor="end" fill="#333">13.3%</text>
<clipPath id="sc40"><rect x="88" y="686.2" width="106" height="86"/></clipPath>
<g clip-path="url(#sc40)"><g filter="url(#dt40)"><rect x="88" y="686.2" width="106" height="86" fill="#000" opacity="0"/><polygon points="96,762.2 103,756.2 112,749.2 121,742.2 129,736.2 138,731.2 141,734.2 140,741.2 134,747.2 128,753.2 124,759.2 116,763.2 106,766.2 96,767.2" opacity="0.95"/><ellipse cx="0" cy="0" rx="20" ry="10" fill="url(#rg)" opacity="0.6" transform="translate(104,764.2) rotate(-28)"/><ellipse cx="0" cy="0" rx="16" ry="11" fill="url(#rg)" opacity="0.45" transform="translate(136,744.2) rotate(-35)"/><ellipse cx="0" cy="0" rx="14" ry="12" fill="url(#rg)" opacity="0.4" transform="translate(136,750.2) rotate(-20)"/><ellipse cx="0" cy="0" rx="28" ry="10" fill="url(#rg)" opacity="0.3" transform="translate(146,726.2) rotate(-30)"/><ellipse cx="0" cy="0" rx="14" ry="3.5" fill="url(#rg)" opacity="0.45" transform="translate(154,719.2) rotate(-15)"/><ellipse cx="0" cy="0" rx="50" ry="32" fill="url(#rg)" opacity="0.15" transform="translate(128,736.2) rotate(-35)"/><ellipse cx="0" cy="0" rx="55" ry="40" fill="url(#rg)" opacity="0.035" transform="translate(143,736.2) rotate(0)"/></g></g>
<rect x="88" y="686.2" width="106" height="86" fill="none" stroke="#666" stroke-width="1.1"/>
<path d="M125.3 686.2V772.2M88 747.1H194" stroke="#222" stroke-width="1.1"/>
<path d="M85.8 765.7H88M96 772.2v2.2M85.8 761.9H88M100.6 772.2v2.2M85.8 759.3H88M104 772.2v2.2M85.8 757.2H88M106.5 772.2v2.2M85.8 755.5H88M108.6 772.2v2.2M85.8 754H88M110.4 772.2v2.2M85.8 752.8H88M111.9 772.2v2.2M85.8 751.7H88M113.3 772.2v2.2M84.5 750.7H88M114.5 772.2v3.5M85.8 744.2H88M122.5 772.2v2.2M85.8 740.4H88M127.1 772.2v2.2M85.8 737.8H88M130.5 772.2v2.2M85.8 735.7H88M133 772.2v2.2M85.8 734H88M135.1 772.2v2.2M85.8 732.5H88M136.9 772.2v2.2M85.8 731.3H88M138.4 772.2v2.2M85.8 730.2H88M139.8 772.2v2.2M84.5 729.2H88M141 772.2v3.5M85.8 722.7H88M149 772.2v2.2M85.8 718.9H88M153.6 772.2v2.2M85.8 716.3H88M157 772.2v2.2M85.8 714.2H88M159.5 772.2v2.2M85.8 712.5H88M161.6 772.2v2.2M85.8 711H88M163.4 772.2v2.2M85.8 709.8H88M164.9 772.2v2.2M85.8 708.7H88M166.3 772.2v2.2M84.5 707.7H88M167.5 772.2v3.5M85.8 701.2H88M175.5 772.2v2.2M85.8 697.4H88M180.1 772.2v2.2M85.8 694.8H88M183.5 772.2v2.2M85.8 692.7H88M186 772.2v2.2M85.8 691H88M188.1 772.2v2.2M85.8 689.5H88M189.9 772.2v2.2M85.8 688.3H88M191.4 772.2v2.2M85.8 687.2H88M192.8 772.2v2.2M84.5 686.2H88M194 772.2v3.5" stroke="#333" stroke-width=".7"/>
<text x="81.7" y="752.7" font-size="5.7" font-weight="bold" text-anchor="end" fill="#222">10<tspan font-size="3.7" dy="-2.3">0</tspan></text>
<text x="114.5" y="782.7" font-size="5.7" font-weight="bold" text-anchor="middle" fill="#222">10<tspan font-size="3.7" dy="-2.3">0</tspan></text>
<text x="81.7" y="731.2" font-size="5.7" font-weight="bold" text-anchor="end" fill="#222">10<tspan font-size="3.7" dy="-2.3">1</tspan></text>
<text x="141" y="782.7" font-size="5.7" font-weight="bold" text-anchor="middle" fill="#222">10<tspan font-size="3.7" dy="-2.3">1</tspan></text>
<text x="81.7" y="709.7" font-size="5.7" font-weight="bold" text-anchor="end" fill="#222">10<tspan font-size="3.7" dy="-2.3">2</tspan></text>
<text x="167.5" y="782.7" font-size="5.7" font-weight="bold" text-anchor="middle" fill="#222">10<tspan font-size="3.7" dy="-2.3">2</tspan></text>
<text x="81.7" y="688.2" font-size="5.7" font-weight="bold" text-anchor="end" fill="#222">10<tspan font-size="3.7" dy="-2.3">3</tspan></text>
<text x="194" y="782.7" font-size="5.7" font-weight="bold" text-anchor="middle" fill="#222">10<tspan font-size="3.7" dy="-2.3">3</tspan></text>
<text x="140" y="790.4" font-size="5.75" font-weight="bold" text-anchor="middle" fill="#111">Annexin V FI</text>
<text transform="translate(67.8,729.2) rotate(-90)" font-size="5.5" font-weight="bold" text-anchor="middle" fill="#222">7-AAD FI</text>
<text x="93" y="695.6" font-size="5.6" fill="#333">11.9% (*)</text>
<text x="189" y="695.6" font-size="5.6" text-anchor="end" fill="#333">13.9% (**)</text>
<text x="93" y="758.3" font-size="5.6" fill="#333">65.0% (**)</text>
<text x="189" y="758.3" font-size="5.6" text-anchor="end" fill="#333">9.2%</text>
<clipPath id="sc41"><rect x="239.3" y="686.2" width="106" height="86"/></clipPath>
<g clip-path="url(#sc41)"><g filter="url(#dt41)"><rect x="239.3" y="686.2" width="106" height="86" fill="#000" opacity="0"/><polygon points="243.3,768.2 249.3,761.2 257.3,754.2 265.3,747.2 273.3,740.2 280.3,734.2 287.3,729.2 291.3,733.2 289.3,742.2 284.3,748.2 279.3,754.2 277.3,761.2 269.3,765.2 259.3,769.2 247.3,771.2 243.3,771.2" opacity="1"/><ellipse cx="0" cy="0" rx="16" ry="8" fill="url(#rg)" opacity="0.55" transform="translate(251.3,766.2) rotate(-30)"/><ellipse cx="0" cy="0" rx="14" ry="11" fill="url(#rg)" opacity="0.5" transform="translate(287.3,744.2) rotate(-35)"/><ellipse cx="0" cy="0" rx="13" ry="12" fill="url(#rg)" opacity="0.4" transform="translate(287.3,750.2) rotate(-20)"/><ellipse cx="0" cy="0" rx="32" ry="14" fill="url(#rg)" opacity="0.18" transform="translate(295.3,724.2) rotate(-30)"/><ellipse cx="0" cy="0" rx="16" ry="5" fill="url(#rg)" opacity="0.14" transform="translate(303.3,716.2) rotate(-25)"/><ellipse cx="0" cy="0" rx="50" ry="32" fill="url(#rg)" opacity="0.15" transform="translate(279.3,736.2) rotate(-35)"/><ellipse cx="0" cy="0" rx="55" ry="40" fill="url(#rg)" opacity="0.035" transform="translate(294.3,736.2) rotate(0)"/></g></g>
<rect x="239.3" y="686.2" width="106" height="86" fill="none" stroke="#666" stroke-width="1.1"/>
<path d="M277.5 686.2V772.2M239.3 747.4H345.3" stroke="#222" stroke-width="1.1"/>
<path d="M237.1 765.7H239.3M247.3 772.2v2.2M237.1 761.9H239.3M251.9 772.2v2.2M237.1 759.3H239.3M255.3 772.2v2.2M237.1 757.2H239.3M257.8 772.2v2.2M237.1 755.5H239.3M259.9 772.2v2.2M237.1 754H239.3M261.7 772.2v2.2M237.1 752.8H239.3M263.2 772.2v2.2M237.1 751.7H239.3M264.6 772.2v2.2M235.8 750.7H239.3M265.8 772.2v3.5M237.1 744.2H239.3M273.8 772.2v2.2M237.1 740.4H239.3M278.4 772.2v2.2M237.1 737.8H239.3M281.8 772.2v2.2M237.1 735.7H239.3M284.3 772.2v2.2M237.1 734H239.3M286.4 772.2v2.2M237.1 732.5H239.3M288.2 772.2v2.2M237.1 731.3H239.3M289.7 772.2v2.2M237.1 730.2H239.3M291.1 772.2v2.2M235.8 729.2H239.3M292.3 772.2v3.5M237.1 722.7H239.3M300.3 772.2v2.2M237.1 718.9H239.3M304.9 772.2v2.2M237.1 716.3H239.3M308.3 772.2v2.2M237.1 714.2H239.3M310.8 772.2v2.2M237.1 712.5H239.3M312.9 772.2v2.2M237.1 711H239.3M314.7 772.2v2.2M237.1 709.8H239.3M316.2 772.2v2.2M237.1 708.7H239.3M317.6 772.2v2.2M235.8 707.7H239.3M318.8 772.2v3.5M237.1 701.2H239.3M326.8 772.2v2.2M237.1 697.4H239.3M331.4 772.2v2.2M237.1 694.8H239.3M334.8 772.2v2.2M237.1 692.7H239.3M337.3 772.2v2.2M237.1 691H239.3M339.4 772.2v2.2M237.1 689.5H239.3M341.2 772.2v2.2M237.1 688.3H239.3M342.7 772.2v2.2M237.1 687.2H239.3M344.1 772.2v2.2M235.8 686.2H239.3M345.3 772.2v3.5" stroke="#333" stroke-width=".7"/>
<text x="233" y="752.7" font-size="5.7" font-weight="bold" text-anchor="end" fill="#222">10<tspan font-size="3.7" dy="-2.3">0</tspan></text>
<text x="265.8" y="782.7" font-size="5.7" font-weight="bold" text-anchor="middle" fill="#222">10<tspan font-size="3.7" dy="-2.3">0</tspan></text>
<text x="233" y="731.2" font-size="5.7" font-weight="bold" text-anchor="end" fill="#222">10<tspan font-size="3.7" dy="-2.3">1</tspan></text>
<text x="292.3" y="782.7" font-size="5.7" font-weight="bold" text-anchor="middle" fill="#222">10<tspan font-size="3.7" dy="-2.3">1</tspan></text>
<text x="233" y="709.7" font-size="5.7" font-weight="bold" text-anchor="end" fill="#222">10<tspan font-size="3.7" dy="-2.3">2</tspan></text>
<text x="318.8" y="782.7" font-size="5.7" font-weight="bold" text-anchor="middle" fill="#222">10<tspan font-size="3.7" dy="-2.3">2</tspan></text>
<text x="233" y="688.2" font-size="5.7" font-weight="bold" text-anchor="end" fill="#222">10<tspan font-size="3.7" dy="-2.3">3</tspan></text>
<text x="345.3" y="782.7" font-size="5.7" font-weight="bold" text-anchor="middle" fill="#222">10<tspan font-size="3.7" dy="-2.3">3</tspan></text>
<text x="291.3" y="790.4" font-size="5.75" font-weight="bold" text-anchor="middle" fill="#111">Annexin V FI</text>
<text transform="translate(219.1,729.2) rotate(-90)" font-size="5.5" font-weight="bold" text-anchor="middle" fill="#222">7-AAD FI</text>
<text x="244.3" y="695.6" font-size="5.6" fill="#333">10.4% (*)</text>
<text x="340.3" y="695.6" font-size="5.6" text-anchor="end" fill="#333">11.3% (**)</text>
<text x="244.3" y="758.6" font-size="5.6" fill="#333">66.5% (**)</text>
<text x="340.3" y="758.6" font-size="5.6" text-anchor="end" fill="#333">11.5%</text>
<text x="-0.6" y="218.3" font-size="14" font-weight="bold" fill="#000">d</text>
<text x="364.6" y="217.8" font-size="14" font-weight="bold" fill="#000">e</text>
<text x="139.7" y="223" font-size="9.75" font-weight="bold" text-anchor="middle" fill="#111">QMR pre-treatment</text>
<text x="290.6" y="223" font-size="9.75" font-weight="bold" text-anchor="middle" fill="#111">QMR co-treatment</text>
<text x="486.8" y="223" font-size="9.75" font-weight="bold" text-anchor="middle" fill="#111">QMR pre-treatment</text>
<text x="625" y="223" font-size="9.75" font-weight="bold" text-anchor="middle" fill="#111">QMR co-treatment</text>
<text x="0.3" y="276.4" font-size="9.7" font-weight="bold" fill="#111">Control</text>
<text x="0.3" y="399.6" font-size="9.7" font-weight="bold" fill="#111">TMZ 10 µM</text>
<text x="0.3" y="502.3" font-size="9.7" font-weight="bold" fill="#111">QMR +</text>
<text x="0.3" y="514.2" font-size="9.7" font-weight="bold" fill="#111">TMZ 10 µM</text>
<text x="0.3" y="625.3" font-size="9.7" font-weight="bold" fill="#111">TMZ 25 µM</text>
<text x="0.3" y="725.8" font-size="9.7" font-weight="bold" fill="#111">QMR +</text>
<text x="0.3" y="737.7" font-size="9.7" font-weight="bold" fill="#111">TMZ 25 µM</text>
<text x="365.4" y="276.4" font-size="9.7" font-weight="bold" fill="#111">Control</text>
<text x="365.4" y="399.6" font-size="9.7" font-weight="bold" fill="#111">TMZ 10 µM</text>
<text x="365.4" y="502.3" font-size="9.7" font-weight="bold" fill="#111">QMR +</text>
<text x="365.4" y="514.2" font-size="9.7" font-weight="bold" fill="#111">TMZ 10 µM</text>
<text x="365.4" y="625.3" font-size="9.7" font-weight="bold" fill="#111">TMZ 25 µM</text>
<text x="365.4" y="725.8" font-size="9.7" font-weight="bold" fill="#111">QMR +</text>
<text x="365.4" y="737.7" font-size="9.7" font-weight="bold" fill="#111">TMZ 25 µM</text>
<clipPath id="hc00"><rect x="430.4" y="228.4" width="115.4" height="86.2"/></clipPath>
<path d="M434.1 314.6H533.8" stroke="#888" stroke-width="1"/>
<g clip-path="url(#hc00)"><path d="M434.1,314.6 436.2,314.6 439.3,314.6 442.9,314.6 446.5,314.6 449.7,314.6 452,314.6 453.3,314.5 453.8,314.3 454,314.1 453.9,313.9 453.9,313.5 454,313.1 454.3,312.9 454.7,311.8 455,310.9 455.4,310.7 455.7,310.2 456,308.6 456.3,307.4 456.5,306 456.8,306.5 457,305.3 457.3,302.3 457.5,300.2 457.8,296.4 458,293.3 458.3,290.6 458.5,286.8 458.8,279.2 459,279 459.2,276 459.4,272.8 459.5,267.2 459.7,263.4 459.8,260.6 460,256.7 460.2,252.8 460.3,248.8 460.5,244.9 460.7,243.5 460.8,244.5 461,237.3 461.2,238.9 461.3,234.1 461.5,234.5 461.7,229.8 461.8,230.1 462,227.7 462.2,227.4 462.3,229.9 462.5,229.9 462.7,236.4 462.8,236.7 463,237.3 463.2,241.3 463.3,243.2 463.5,246.7 463.6,251.8 463.8,252.3 464,258 464.2,257 464.5,264.4 464.7,266.3 465,271.1 465.2,273.6 465.5,279.4 465.8,281.2 466,286.6 466.2,289.1 466.5,293.7 466.8,297.6 467,301.2 467.2,302.2 467.5,304.1 467.8,304.6 468,307 468.2,307.3 468.5,308.3 468.7,309.4 469,310.2 469.2,310.9 469.5,311.8 469.7,312.5 470,312.7 470.3,312.8 470.6,313.3 470.8,313.5 471.2,313.6 471.5,313.7 472,313.8 472.6,313.9 473.2,313.9 473.9,313.9 474.6,313.9 475.3,313.8 476,313.8 476.7,313.8 477.3,313.7 478,313.7 478.7,313.6 479.3,313.5 480,313.4 480.7,313.3 481.3,313.2 482,312.6 482.7,312.6 483.3,312.4 484,312.4 484.7,312.2 485.4,312.2 486.1,311.8 486.7,311.2 487.4,311.8 488,311.9 488.6,310.8 489.1,311.4 489.6,311.1 490,311.1 490.5,312 491,310.7 491.5,311 492,311.8 492.5,311.8 493,312.2 493.5,312.7 494,312.6 494.5,312.7 495,312.7 495.5,313.2 496,313.4 496.5,313.6 497,313.8 497.1,313.9 496.9,314.1 496.6,314.2 496.7,314.3 497.7,314.3 500,314.4 504.2,314.5 510.2,314.5 517.1,314.5 523.9,314.6 529.8,314.6 533.8,314.6 L533.8,314.6 L434.1,314.6Z" fill="#bdbdbd"/><path d="M434.1,314.6 436.2,314.6 439.3,314.6 442.9,314.6 446.5,314.6 449.7,314.6 452,314.6 453.3,314.5 453.8,314.3 454,314.1 453.9,313.9 453.9,313.5 454,313.1 454.3,312.9 454.7,311.8 455,310.9 455.4,310.7 455.7,310.2 456,308.6 456.3,307.4 456.5,306 456.8,306.5 457,305.3 457.3,302.3 457.5,300.2 457.8,296.4 458,293.3 458.3,290.6 458.5,286.8 458.8,279.2 459,279 459.2,276 459.4,272.8 459.5,267.2 459.7,263.4 459.8,260.6 460,256.7 460.2,252.8 460.3,248.8 460.5,244.9 460.7,243.5 460.8,244.5 461,237.3 461.2,238.9 461.3,234.1 461.5,234.5 461.7,229.8 461.8,230.1 462,227.7 462.2,227.4 462.3,229.9 462.5,229.9 462.7,236.4 462.8,236.7 463,237.3 463.2,241.3 463.3,243.2 463.5,246.7 463.6,251.8 463.8,252.3 464,258 464.2,257 464.5,264.4 464.7,266.3 465,271.1 465.2,273.6 465.5,279.4 465.8,281.2 466,286.6 466.2,289.1 466.5,293.7 466.8,297.6 467,301.2 467.2,302.2 467.5,304.1 467.8,304.6 468,307 468.2,307.3 468.5,308.3 468.7,309.4 469,310.2 469.2,310.9 469.5,311.8 469.7,312.5 470,312.7 470.3,312.8 470.6,313.3 470.8,313.5 471.2,313.6 471.5,313.7 472,313.8 472.6,313.9 473.2,313.9 473.9,313.9 474.6,313.9 475.3,313.8 476,313.8 476.7,313.8 477.3,313.7 478,313.7 478.7,313.6 479.3,313.5 480,313.4 480.7,313.3 481.3,313.2 482,312.6 482.7,312.6 483.3,312.4 484,312.4 484.7,312.2 485.4,312.2 486.1,311.8 486.7,311.2 487.4,311.8 488,311.9 488.6,310.8 489.1,311.4 489.6,311.1 490,311.1 490.5,312 491,310.7 491.5,311 492,311.8 492.5,311.8 493,312.2 493.5,312.7 494,312.6 494.5,312.7 495,312.7 495.5,313.2 496,313.4 496.5,313.6 497,313.8 497.1,313.9 496.9,314.1 496.6,314.2 496.7,314.3 497.7,314.3 500,314.4 504.2,314.5 510.2,314.5 517.1,314.5 523.9,314.6 529.8,314.6 533.8,314.6" fill="none" stroke="#1a1a1a" stroke-width="1" stroke-linejoin="bevel"/></g>
<path d="M430.4 314.6V228.4H545.8V314.6M428.4 314.6H430.4" fill="none" stroke="#555" stroke-width=".9"/>
<path d="M428.2 290.9H430.4M428.2 267.1H430.4M428.2 243.4H430.4M442.5 314.6v2M453.7 314.6v2M464.8 314.6v2M476 314.6v2M487.1 314.6v2M498.3 314.6v2M509.4 314.6v2M520.6 314.6v2M531.8 314.6v2" stroke="#444" stroke-width=".8"/>
<text x="425.9" y="239" font-size="5.8" font-weight="bold" text-anchor="end" fill="#222">363</text>
<text x="432.7" y="323.2" font-size="5.4" font-weight="bold" text-anchor="middle" fill="#222">0</text>
<text x="545.8" y="323.2" font-size="5.4" font-weight="bold" text-anchor="end" fill="#222">1023</text>
<text x="485.4" y="333.2" font-size="5.5" font-weight="bold" text-anchor="middle" fill="#222">7-AAD FI</text>
<path d="M448.6 246.4H470.6M448.6 244.2v4.4M470.6 244.2v4.4" stroke="#9a9a9a" stroke-width="1.1"/>
<text x="465" y="241.4" font-size="5.6" text-anchor="middle" fill="#333">G<tspan font-size="3.8" dy="1.5">0</tspan><tspan dy="-1.5">/ G</tspan><tspan font-size="3.8" dy="1.5">1</tspan><tspan dy="-1.5"> = 90.8%</tspan></text>
<path d="M480.4 266.6H509.4M480.4 264.4v4.4M509.4 264.4v4.4" stroke="#222" stroke-width="1.1"/>
<text x="494" y="261.6" font-size="5.6" text-anchor="middle" fill="#333">G<tspan font-size="3.8" dy="1.5">2</tspan><tspan dy="-1.5">/M = 4.9%</tspan></text>
<path d="M470.6 290.6H480.4M470.6 288.4v4.4M480.4 288.4v4.4" stroke="#222" stroke-width="1.1"/>
<text x="482" y="285.6" font-size="5.6" text-anchor="middle" fill="#333">S = 4.3%</text>
<clipPath id="hc01"><rect x="567.6" y="228.4" width="115.4" height="86.6"/></clipPath>
<path d="M571.3 315H671" stroke="#888" stroke-width="1"/>
<g clip-path="url(#hc01)"><path d="M571.3,315 572.9,315 575.3,315 578,315 580.8,315 583.2,315 585,315 586,314.9 586.5,314.7 586.7,314.5 586.8,314.3 586.8,313.9 587,313.5 587.3,312.7 587.7,312.3 588,311.1 588.4,311.2 588.7,309.6 589,308.4 589.3,308.1 589.5,308 589.8,306.3 590,304.2 590.3,302.4 590.5,299.7 590.8,299.8 591,296.6 591.2,293.4 591.5,291.5 591.8,291 592,284 592.2,278.5 592.5,276.2 592.7,274.7 593,269.7 593.2,264.3 593.5,255.9 593.8,253.4 594.1,247.6 594.4,238.1 594.8,235.1 595.1,227.4 595.4,230.4 595.7,231.6 596,233.5 596.2,238.3 596.5,246.6 596.7,253.9 597,263 597.3,265.7 597.5,270 597.8,274.2 598,276.8 598.3,281.9 598.5,284.1 598.8,288.2 599,291.7 599.2,293.9 599.5,296.2 599.8,298.1 600,301.4 600.2,303 600.5,305.4 600.8,304.7 601,306.1 601.2,308.1 601.5,309.3 601.7,310.5 602,310.5 602.2,311.1 602.5,310.8 602.7,312 603,312.8 603.3,313.6 603.5,312.7 603.8,313.3 604.1,313.5 604.5,313.7 605,313.8 605.7,313.9 606.4,314 607.3,314 608.2,314 609.1,314 610,314 610.8,314 611.7,313.9 612.6,313.8 613.4,313.7 614.2,313.6 615,313.5 615.7,313.8 616.4,313.1 617.1,313.5 617.8,311.7 618.4,312.3 619,312.3 619.6,312.4 620.1,313 620.6,312.2 621,312.7 621.5,311.8 622,312.8 622.5,312.4 623,311.6 623.4,311.5 623.9,312.6 624.4,312.9 625,312.2 625.6,312.4 626.3,313.3 627,313.5 627.7,313.7 628.4,314 629,314.2 629.1,314.4 628.7,314.6 628.3,314.7 628.4,314.8 629.4,314.9 632,315 636.9,315 643.8,315 651.7,315 659.6,315 666.3,315 671,315 L671,315 L571.3,315Z" fill="#ec8200"/><path d="M571.3,315 572.9,315 575.3,315 578,315 580.8,315 583.2,315 585,315 586,314.9 586.5,314.7 586.7,314.5 586.8,314.3 586.8,313.9 587,313.5 587.3,312.7 587.7,312.3 588,311.1 588.4,311.2 588.7,309.6 589,308.4 589.3,308.1 589.5,308 589.8,306.3 590,304.2 590.3,302.4 590.5,299.7 590.8,299.8 591,296.6 591.2,293.4 591.5,291.5 591.8,291 592,284 592.2,278.5 592.5,276.2 592.7,274.7 593,269.7 593.2,264.3 593.5,255.9 593.8,253.4 594.1,247.6 594.4,238.1 594.8,235.1 595.1,227.4 595.4,230.4 595.7,231.6 596,233.5 596.2,238.3 596.5,246.6 596.7,253.9 597,263 597.3,265.7 597.5,270 597.8,274.2 598,276.8 598.3,281.9 598.5,284.1 598.8,288.2 599,291.7 599.2,293.9 599.5,296.2 599.8,298.1 600,301.4 600.2,303 600.5,305.4 600.8,304.7 601,306.1 601.2,308.1 601.5,309.3 601.7,310.5 602,310.5 602.2,311.1 602.5,310.8 602.7,312 603,312.8 603.3,313.6 603.5,312.7 603.8,313.3 604.1,313.5 604.5,313.7 605,313.8 605.7,313.9 606.4,314 607.3,314 608.2,314 609.1,314 610,314 610.8,314 611.7,313.9 612.6,313.8 613.4,313.7 614.2,313.6 615,313.5 615.7,313.8 616.4,313.1 617.1,313.5 617.8,311.7 618.4,312.3 619,312.3 619.6,312.4 620.1,313 620.6,312.2 621,312.7 621.5,311.8 622,312.8 622.5,312.4 623,311.6 623.4,311.5 623.9,312.6 624.4,312.9 625,312.2 625.6,312.4 626.3,313.3 627,313.5 627.7,313.7 628.4,314 629,314.2 629.1,314.4 628.7,314.6 628.3,314.7 628.4,314.8 629.4,314.9 632,315 636.9,315 643.8,315 651.7,315 659.6,315 666.3,315 671,315" fill="none" stroke="#1a1a1a" stroke-width="1" stroke-linejoin="bevel"/></g>
<path d="M567.6 315V228.4H683V315M565.6 315H567.6" fill="none" stroke="#555" stroke-width=".9"/>
<path d="M565.4 291.9H567.6M565.4 268.8H567.6M565.4 245.7H567.6M579.8 315v2M590.9 315v2M602.1 315v2M613.2 315v2M624.4 315v2M635.5 315v2M646.6 315v2M657.8 315v2M669 315v2" stroke="#444" stroke-width=".8"/>
<text x="563.1" y="239" font-size="5.8" font-weight="bold" text-anchor="end" fill="#222">375</text>
<text x="569.9" y="323.6" font-size="5.4" font-weight="bold" text-anchor="middle" fill="#222">0</text>
<text x="683" y="323.6" font-size="5.4" font-weight="bold" text-anchor="end" fill="#222">1023</text>
<text x="621.4" y="333.2" font-size="5.5" font-weight="bold" text-anchor="middle" fill="#222">7-AAD FI</text>
<path d="M582.4 246H604.4M582.4 243.8v4.4M604.4 243.8v4.4" stroke="#222" stroke-width="1.1"/>
<text x="593.4" y="241" font-size="5.6" text-anchor="middle" fill="#333">90.2%</text>
<path d="M614 264.6H633M614 262.4v4.4M633 262.4v4.4" stroke="#222" stroke-width="1.1"/>
<text x="623.5" y="259.6" font-size="5.6" text-anchor="middle" fill="#333">5.2%</text>
<path d="M604.6 290H613.6M604.6 287.8v4.4M613.6 287.8v4.4" stroke="#222" stroke-width="1.1"/>
<text x="609.1" y="285" font-size="5.6" text-anchor="middle" fill="#333">4.6%</text>
<clipPath id="hc10"><rect x="430.4" y="345.2" width="115.4" height="86.8"/></clipPath>
<path d="M434.1 432H533.8" stroke="#888" stroke-width="1"/>
<g clip-path="url(#hc10)"><path d="M434.1,432 435.3,432 437,432 438.9,432 440.9,432 442.7,432 444,432 444.8,431.9 445.2,431.7 445.4,431.5 445.5,431.3 445.6,431.1 446,431 446.6,430.9 447.3,430.9 448,430.9 448.7,430.9 449.4,430.9 450,431 450.4,431.1 450.6,431.2 450.8,431.4 451,431.5 451.3,431.6 452,431.7 453.1,431.7 454.4,431.7 456,431.7 457.6,431.6 458.9,431.6 460,431.5 460.6,431.5 461,431.6 461.2,431.7 461.3,431.7 461.6,431.5 462,431 462.7,430.3 463.6,429.4 464.5,427.8 465.4,425.3 466.3,424 467,421.6 467.5,421.9 467.9,420.9 468.2,420.5 468.4,418.7 468.7,418.1 469,416.6 469.3,411.7 469.7,407.7 470,404.8 470.3,400.5 470.7,398.2 471,396 471.3,391.5 471.7,388.9 472,386.7 472.3,384.3 472.7,380.7 473,375 473.3,371.3 473.7,368.8 474,361.8 474.4,360.6 474.7,356.6 475,352.6 475.3,354.1 475.5,353.9 475.8,346.2 476,347.4 476.3,344.2 476.6,344.3 477,344.2 477.4,346.6 477.8,355 478.2,352.7 478.6,358.8 479,362.4 479.3,365.3 479.7,367.1 480,371.1 480.3,375.2 480.6,383.6 481,385.9 481.4,392.4 481.9,393.1 482.4,396.1 482.9,401.6 483.4,403.8 484,406.7 484.6,408.4 485.3,412.2 486,413.9 486.7,415.2 487.4,414.2 488,416.1 488.6,418.2 489.1,418.9 489.6,419.9 490,420.5 490.5,421.5 491,422.2 491.5,423.5 492,423.7 492.5,422.7 493,423.9 493.5,424.6 494,425.1 494.5,425.2 495,425.3 495.5,426 496,425.6 496.5,425.5 497,425.8 497.5,425.4 498,424.8 498.4,424 498.9,421.9 499.4,423.3 500,421.2 500.6,421 501.3,420.6 502,419.7 502.7,418.6 503.4,419.2 504,419.1 504.6,419.3 505.1,418.7 505.6,417.7 506,418.6 506.5,419.1 507,419 507.5,418.7 508,418.7 508.6,416.4 509.1,416.8 509.6,417.2 510,415.8 510.4,417.7 510.7,416.7 511.1,416.9 511.4,419.2 511.7,419.7 512,419.7 512.3,419.1 512.7,419.7 513,422.6 513.3,422.2 513.7,424.2 514,425.2 514.3,426.4 514.7,427.3 515,429.1 515.3,429.7 515.7,430.6 516,431 516.2,431.5 516.2,431.7 516.1,431.9 516.3,431.9 516.9,431.9 518,432 520,432 522.8,432 526,432 529.2,432 531.9,432 533.8,432 L533.8,432 L434.1,432Z" fill="#bdbdbd"/><path d="M434.1,432 435.3,432 437,432 438.9,432 440.9,432 442.7,432 444,432 444.8,431.9 445.2,431.7 445.4,431.5 445.5,431.3 445.6,431.1 446,431 446.6,430.9 447.3,430.9 448,430.9 448.7,430.9 449.4,430.9 450,431 450.4,431.1 450.6,431.2 450.8,431.4 451,431.5 451.3,431.6 452,431.7 453.1,431.7 454.4,431.7 456,431.7 457.6,431.6 458.9,431.6 460,431.5 460.6,431.5 461,431.6 461.2,431.7 461.3,431.7 461.6,431.5 462,431 462.7,430.3 463.6,429.4 464.5,427.8 465.4,425.3 466.3,424 467,421.6 467.5,421.9 467.9,420.9 468.2,420.5 468.4,418.7 468.7,418.1 469,416.6 469.3,411.7 469.7,407.7 470,404.8 470.3,400.5 470.7,398.2 471,396 471.3,391.5 471.7,388.9 472,386.7 472.3,384.3 472.7,380.7 473,375 473.3,371.3 473.7,368.8 474,361.8 474.4,360.6 474.7,356.6 475,352.6 475.3,354.1 475.5,353.9 475.8,346.2 476,347.4 476.3,344.2 476.6,344.3 477,344.2 477.4,346.6 477.8,355 478.2,352.7 478.6,358.8 479,362.4 479.3,365.3 479.7,367.1 480,371.1 480.3,375.2 480.6,383.6 481,385.9 481.4,392.4 481.9,393.1 482.4,396.1 482.9,401.6 483.4,403.8 484,406.7 484.6,408.4 485.3,412.2 486,413.9 486.7,415.2 487.4,414.2 488,416.1 488.6,418.2 489.1,418.9 489.6,419.9 490,420.5 490.5,421.5 491,422.2 491.5,423.5 492,423.7 492.5,422.7 493,423.9 493.5,424.6 494,425.1 494.5,425.2 495,425.3 495.5,426 496,425.6 496.5,425.5 497,425.8 497.5,425.4 498,424.8 498.4,424 498.9,421.9 499.4,423.3 500,421.2 500.6,421 501.3,420.6 502,419.7 502.7,418.6 503.4,419.2 504,419.1 504.6,419.3 505.1,418.7 505.6,417.7 506,418.6 506.5,419.1 507,419 507.5,418.7 508,418.7 508.6,416.4 509.1,416.8 509.6,417.2 510,415.8 510.4,417.7 510.7,416.7 511.1,416.9 511.4,419.2 511.7,419.7 512,419.7 512.3,419.1 512.7,419.7 513,422.6 513.3,422.2 513.7,424.2 514,425.2 514.3,426.4 514.7,427.3 515,429.1 515.3,429.7 515.7,430.6 516,431 516.2,431.5 516.2,431.7 516.1,431.9 516.3,431.9 516.9,431.9 518,432 520,432 522.8,432 526,432 529.2,432 531.9,432 533.8,432" fill="none" stroke="#1a1a1a" stroke-width="1" stroke-linejoin="bevel"/></g>
<path d="M430.4 432V345.2H545.8V432M428.4 432H430.4" fill="none" stroke="#555" stroke-width=".9"/>
<path d="M428.2 384.6H430.4M442.5 432v2M453.7 432v2M464.8 432v2M476 432v2M487.1 432v2M498.3 432v2M509.4 432v2M520.6 432v2M531.8 432v2" stroke="#444" stroke-width=".8"/>
<text x="425.9" y="355.8" font-size="5.8" font-weight="bold" text-anchor="end" fill="#222">183</text>
<text x="432.7" y="440.6" font-size="5.4" font-weight="bold" text-anchor="middle" fill="#222">0</text>
<text x="545.8" y="440.6" font-size="5.4" font-weight="bold" text-anchor="end" fill="#222">1023</text>
<text x="485.4" y="448.9" font-size="5.5" font-weight="bold" text-anchor="middle" fill="#222">7-AAD FI</text>
<path d="M462.4 366H491.4M462.4 363.8v4.4M491.4 363.8v4.4" stroke="#222" stroke-width="1.1"/>
<text x="476.9" y="361" font-size="5.6" text-anchor="middle" fill="#333">73.8% (****)</text>
<path d="M500 385H519M500 382.8v4.4M519 382.8v4.4" stroke="#222" stroke-width="1.1"/>
<text x="509.5" y="380" font-size="5.6" text-anchor="middle" fill="#333">19.1% (**)</text>
<path d="M491.4 410.6H500.4M491.4 408.4v4.4M500.4 408.4v4.4" stroke="#222" stroke-width="1.1"/>
<text x="495.9" y="405.6" font-size="5.6" text-anchor="middle" fill="#333">7%</text>
<clipPath id="hc11"><rect x="567.6" y="345.8" width="115.4" height="87.2"/></clipPath>
<path d="M571.3 433H671" stroke="#888" stroke-width="1"/>
<g clip-path="url(#hc11)"><path d="M571.3,433 573.3,433 576.1,433 579.4,433 582.8,433 585.8,433 588,433 589.4,433 590.3,433 590.9,433 591.2,433 591.5,433 592,432.5 592.6,431.5 593.1,430.1 593.6,427.9 594,425.7 594.5,425.4 595,424.2 595.5,420.8 596,418.5 596.5,412.8 597,410.9 597.5,409 598,403.9 598.5,401.2 599,400.7 599.5,396.1 600,392.4 600.5,388.6 601,384.8 601.5,381.7 602,376.6 602.5,373.7 603,370 603.5,361.7 604,360.3 604.5,356.9 605,357.5 605.6,351.7 606.1,347.2 606.6,349.8 607,344.8 607.4,348 607.7,348.2 608.1,351.9 608.4,354.3 608.7,355.6 609,361.8 609.3,361.2 609.6,368.7 609.9,372.3 610.3,372.9 610.6,379.3 611,381.6 611.4,383 611.9,386 612.4,393.8 613,393.9 613.5,395.4 614,399.5 614.5,404.3 615,407.7 615.5,410.2 616,413.7 616.5,415.2 617,417.2 617.5,418.7 618,418.9 618.4,421.1 618.9,422.7 619.4,421.6 620,423.7 620.6,423.9 621.3,424.2 621.9,424.8 622.6,425.5 623.3,425.2 624,423.6 624.7,425.1 625.3,424.4 626,422.9 626.7,422.5 627.3,421.9 628,421.4 628.7,423.2 629.3,422.2 630,421.3 630.7,421 631.3,420.2 632,420.6 632.7,420.9 633.3,420.2 634,419.9 634.7,419.1 635.3,418.5 636,419.3 636.7,419.9 637.3,420.3 638,419.3 638.7,419.8 639.3,420.6 640,421.4 640.7,422 641.3,423.2 642,423.5 642.7,425.3 643.3,425.4 644,426.4 644.7,426.4 645.4,427.9 646.1,428.5 646.8,429.1 647.4,429.5 648,430.9 648.4,431.4 648.8,431.3 649.1,431.8 649.4,432.1 649.7,432.3 650,432.5 650.1,432.7 650,432.8 649.9,432.9 650.1,432.9 650.7,433 652,433 654.4,433 657.8,433 661.6,433 665.4,433 668.7,433 671,433 L671,433 L571.3,433Z" fill="#ec8200"/><path d="M571.3,433 573.3,433 576.1,433 579.4,433 582.8,433 585.8,433 588,433 589.4,433 590.3,433 590.9,433 591.2,433 591.5,433 592,432.5 592.6,431.5 593.1,430.1 593.6,427.9 594,425.7 594.5,425.4 595,424.2 595.5,420.8 596,418.5 596.5,412.8 597,410.9 597.5,409 598,403.9 598.5,401.2 599,400.7 599.5,396.1 600,392.4 600.5,388.6 601,384.8 601.5,381.7 602,376.6 602.5,373.7 603,370 603.5,361.7 604,360.3 604.5,356.9 605,357.5 605.6,351.7 606.1,347.2 606.6,349.8 607,344.8 607.4,348 607.7,348.2 608.1,351.9 608.4,354.3 608.7,355.6 609,361.8 609.3,361.2 609.6,368.7 609.9,372.3 610.3,372.9 610.6,379.3 611,381.6 611.4,383 611.9,386 612.4,393.8 613,393.9 613.5,395.4 614,399.5 614.5,404.3 615,407.7 615.5,410.2 616,413.7 616.5,415.2 617,417.2 617.5,418.7 618,418.9 618.4,421.1 618.9,422.7 619.4,421.6 620,423.7 620.6,423.9 621.3,424.2 621.9,424.8 622.6,425.5 623.3,425.2 624,423.6 624.7,425.1 625.3,424.4 626,422.9 626.7,422.5 627.3,421.9 628,421.4 628.7,423.2 629.3,422.2 630,421.3 630.7,421 631.3,420.2 632,420.6 632.7,420.9 633.3,420.2 634,419.9 634.7,419.1 635.3,418.5 636,419.3 636.7,419.9 637.3,420.3 638,419.3 638.7,419.8 639.3,420.6 640,421.4 640.7,422 641.3,423.2 642,423.5 642.7,425.3 643.3,425.4 644,426.4 644.7,426.4 645.4,427.9 646.1,428.5 646.8,429.1 647.4,429.5 648,430.9 648.4,431.4 648.8,431.3 649.1,431.8 649.4,432.1 649.7,432.3 650,432.5 650.1,432.7 650,432.8 649.9,432.9 650.1,432.9 650.7,433 652,433 654.4,433 657.8,433 661.6,433 665.4,433 668.7,433 671,433" fill="none" stroke="#1a1a1a" stroke-width="1" stroke-linejoin="bevel"/></g>
<path d="M567.6 433V345.8H683V433M565.6 433H567.6" fill="none" stroke="#555" stroke-width=".9"/>
<path d="M565.4 384.8H567.6M579.8 433v2M590.9 433v2M602.1 433v2M613.2 433v2M624.4 433v2M635.5 433v2M646.6 433v2M657.8 433v2M669 433v2" stroke="#444" stroke-width=".8"/>
<text x="563.1" y="356.4" font-size="5.8" font-weight="bold" text-anchor="end" fill="#222">181</text>
<text x="569.9" y="441.6" font-size="5.4" font-weight="bold" text-anchor="middle" fill="#222">0</text>
<text x="683" y="441.6" font-size="5.4" font-weight="bold" text-anchor="end" fill="#222">1023</text>
<text x="621.4" y="448.9" font-size="5.5" font-weight="bold" text-anchor="middle" fill="#222">7-AAD FI</text>
<path d="M594.6 366H620.4M594.6 363.8v4.4M620.4 363.8v4.4" stroke="#222" stroke-width="1.1"/>
<text x="607.5" y="361" font-size="5.6" text-anchor="middle" fill="#333">77.2% (****)</text>
<path d="M626.4 385H651.6M626.4 382.8v4.4M651.6 382.8v4.4" stroke="#222" stroke-width="1.1"/>
<text x="639" y="380" font-size="5.6" text-anchor="middle" fill="#333">15.9% (***)</text>
<path d="M620.4 410.6H626.6M620.4 408.4v4.4M626.6 408.4v4.4" stroke="#222" stroke-width="1.1"/>
<text x="622.5" y="405.6" font-size="5.6" text-anchor="middle" fill="#333">6.6%</text>
<clipPath id="hc20"><rect x="430.4" y="456.8" width="115.4" height="86.6"/></clipPath>
<path d="M434.1 543.4H533.8" stroke="#888" stroke-width="1"/>
<g clip-path="url(#hc20)"><path d="M434.1,543.4 435.3,543.4 437,543.4 438.9,543.4 440.9,543.4 442.7,543.4 444,543.4 444.8,543.3 445.2,543.1 445.4,542.9 445.5,542.8 445.6,542.6 446,542.4 446.6,542.2 447.2,542.1 447.9,542.2 448.6,541.6 449.3,541.8 450,541.6 450.7,542.2 451.4,541.6 452.2,541.9 452.9,542.1 453.5,542.3 454,542.4 454.3,542.6 454.5,542.9 454.6,543.2 454.7,543.4 454.8,543.3 455,542.9 455.3,542 455.6,540.9 455.9,539.6 456.3,536.4 456.7,535.5 457,532.1 457.3,532.8 457.6,532.3 457.9,530.8 458.3,528.3 458.6,528.2 459,526 459.4,523.8 459.9,522.9 460.4,519.3 461,517.2 461.5,515.1 462,509.3 462.5,505.9 463,502.7 463.6,499.9 464.1,497.3 464.6,489.4 465,486.6 465.4,485.9 465.8,479.8 466.1,479.4 466.4,473.8 466.7,470.7 467,467.7 467.3,465.3 467.5,462.6 467.8,462.7 468,459 468.3,458 468.6,457.3 468.9,457.4 469.3,459 469.7,460 470.1,471.8 470.6,469.9 471,474.8 471.5,474.3 472,481.1 472.5,490 473,491.2 473.5,497.1 474,499 474.5,505.7 475,508 475.5,511.6 476,514.8 476.5,518.4 477,522.3 477.5,522.3 478,523.8 478.6,526.6 479.1,528.9 479.6,529.1 480,530 480.4,531.4 480.7,531.9 480.9,531.2 481.2,533.2 481.6,532.9 482,533.8 482.6,532.7 483.2,532.4 483.9,532.1 484.6,531.3 485.3,528.7 486,529.6 486.7,528.6 487.3,525.6 487.9,526.5 488.6,527 489.3,523.9 490,524.3 490.8,520.9 491.7,523 492.6,521.6 493.4,522.1 494.3,519.7 495,520.5 495.6,519.2 496.1,519.3 496.6,519.5 497,517.9 497.5,518 498,519.3 498.6,520.9 499.3,521.7 499.9,521.1 500.6,519.9 501.3,523.8 502,525.2 502.7,526.2 503.3,527.9 504,529.2 504.7,529.9 505.3,530 506,532.4 506.7,533.9 507.3,535.7 508,535.5 508.7,536.6 509.3,538.2 510,538.9 510.7,539.2 511.4,539.6 512.1,540.5 512.8,541.3 513.4,541.9 514,542.4 514.3,542.8 514.2,543 514.1,543.1 514.2,543.3 514.8,543.3 516,543.4 518.3,543.4 521.4,543.4 525,543.4 528.6,543.4 531.7,543.4 533.8,543.4 L533.8,543.4 L434.1,543.4Z" fill="#bfbfbf"/><path d="M434.1,543.4 435.3,543.4 437,543.4 438.9,543.4 440.9,543.4 442.7,543.4 444,543.4 444.8,543.3 445.2,543.1 445.4,542.9 445.5,542.8 445.6,542.6 446,542.4 446.6,542.2 447.2,542.1 447.9,542.2 448.6,541.6 449.3,541.8 450,541.6 450.7,542.2 451.4,541.6 452.2,541.9 452.9,542.1 453.5,542.3 454,542.4 454.3,542.6 454.5,542.9 454.6,543.2 454.7,543.4 454.8,543.3 455,542.9 455.3,542 455.6,540.9 455.9,539.6 456.3,536.4 456.7,535.5 457,532.1 457.3,532.8 457.6,532.3 457.9,530.8 458.3,528.3 458.6,528.2 459,526 459.4,523.8 459.9,522.9 460.4,519.3 461,517.2 461.5,515.1 462,509.3 462.5,505.9 463,502.7 463.6,499.9 464.1,497.3 464.6,489.4 465,486.6 465.4,485.9 465.8,479.8 466.1,479.4 466.4,473.8 466.7,470.7 467,467.7 467.3,465.3 467.5,462.6 467.8,462.7 468,459 468.3,458 468.6,457.3 468.9,457.4 469.3,459 469.7,460 470.1,471.8 470.6,469.9 471,474.8 471.5,474.3 472,481.1 472.5,490 473,491.2 473.5,497.1 474,499 474.5,505.7 475,508 475.5,511.6 476,514.8 476.5,518.4 477,522.3 477.5,522.3 478,523.8 478.6,526.6 479.1,528.9 479.6,529.1 480,530 480.4,531.4 480.7,531.9 480.9,531.2 481.2,533.2 481.6,532.9 482,533.8 482.6,532.7 483.2,532.4 483.9,532.1 484.6,531.3 485.3,528.7 486,529.6 486.7,528.6 487.3,525.6 487.9,526.5 488.6,527 489.3,523.9 490,524.3 490.8,520.9 491.7,523 492.6,521.6 493.4,522.1 494.3,519.7 495,520.5 495.6,519.2 496.1,519.3 496.6,519.5 497,517.9 497.5,518 498,519.3 498.6,520.9 499.3,521.7 499.9,521.1 500.6,519.9 501.3,523.8 502,525.2 502.7,526.2 503.3,527.9 504,529.2 504.7,529.9 505.3,530 506,532.4 506.7,533.9 507.3,535.7 508,535.5 508.7,536.6 509.3,538.2 510,538.9 510.7,539.2 511.4,539.6 512.1,540.5 512.8,541.3 513.4,541.9 514,542.4 514.3,542.8 514.2,543 514.1,543.1 514.2,543.3 514.8,543.3 516,543.4 518.3,543.4 521.4,543.4 525,543.4 528.6,543.4 531.7,543.4 533.8,543.4" fill="none" stroke="#1a1a1a" stroke-width="1" stroke-linejoin="bevel"/></g>
<path d="M430.4 543.4V456.8H545.8V543.4M428.4 543.4H430.4" fill="none" stroke="#555" stroke-width=".9"/>
<path d="M428.2 485.3H430.4M442.5 543.4v2M453.7 543.4v2M464.8 543.4v2M476 543.4v2M487.1 543.4v2M498.3 543.4v2M509.4 543.4v2M520.6 543.4v2M531.8 543.4v2" stroke="#444" stroke-width=".8"/>
<text x="425.9" y="467.4" font-size="5.8" font-weight="bold" text-anchor="end" fill="#222">149</text>
<text x="432.7" y="552" font-size="5.4" font-weight="bold" text-anchor="middle" fill="#222">0</text>
<text x="545.8" y="552" font-size="5.4" font-weight="bold" text-anchor="end" fill="#222">1023</text>
<text x="485.4" y="562.5" font-size="5.5" font-weight="bold" text-anchor="middle" fill="#222">7-AAD FI</text>
<path d="M456.6 476.6H481M456.6 474.4v4.4M481 474.4v4.4" stroke="#222" stroke-width="1.1"/>
<text x="468.8" y="471.6" font-size="5.6" text-anchor="middle" fill="#333">71.4% (****)</text>
<path d="M488.6 496.4H507.4M488.6 494.2v4.4M507.4 494.2v4.4" stroke="#222" stroke-width="1.1"/>
<text x="498" y="491.4" font-size="5.6" text-anchor="middle" fill="#333">21.1% (***)</text>
<path d="M481.4 521H488.6M481.4 518.8v4.4M488.6 518.8v4.4" stroke="#222" stroke-width="1.1"/>
<text x="485" y="516" font-size="5.6" text-anchor="middle" fill="#333">7.2%</text>
<clipPath id="hc21"><rect x="567.6" y="457.6" width="115.4" height="86.4"/></clipPath>
<path d="M571.3 544H671" stroke="#888" stroke-width="1"/>
<g clip-path="url(#hc21)"><path d="M571.3,544 572.3,544 573.8,544 575.5,544 577.3,544 578.8,544 580,544 580.7,543.9 581,543.7 581.2,543.5 581.3,543.3 581.5,543.1 582,543 582.8,542.9 583.8,542.8 584.9,542.7 586,542.6 587.1,542.5 588,542.5 588.8,542.5 589.6,542.6 590.2,542.7 590.9,542.8 591.5,542.9 592,543 592.4,543.2 592.8,543.4 593.1,543.6 593.4,543.8 593.7,543.8 594,543.5 594.3,543.1 594.7,542.6 595,542 595.3,540.9 595.7,539.7 596,536.8 596.3,536.5 596.7,533.3 597,528.9 597.3,526.9 597.6,521.8 598,520 598.4,516.7 598.8,514.2 599.2,512.3 599.6,508.5 600,500.6 600.4,499.1 600.8,495 601.3,489.9 601.7,485.8 602.1,480.4 602.6,478.3 603,474.4 603.4,468.5 603.9,467.3 604.3,465.8 604.7,460.7 605.2,459.4 605.6,456.6 606,459.8 606.4,462.4 606.8,463.8 607.2,463.6 607.6,470.4 608,473.7 608.4,477.8 608.8,481.7 609.2,485.2 609.6,489.2 610,498.4 610.4,498 610.8,503.8 611.2,507.8 611.7,507.8 612.1,514.4 612.5,515 613,519 613.5,523.6 613.9,524.4 614.4,526.3 614.9,528.9 615.4,532.4 616,532.3 616.6,533.5 617.3,535.2 617.9,534.2 618.6,536.3 619.3,536.9 620,537.2 620.7,537.5 621.3,537.4 622,536.5 622.7,535.9 623.3,535.9 624,535.1 624.7,535.4 625.3,533.4 626,533.6 626.7,532.1 627.3,532.3 628,531.4 628.7,530.3 629.4,531 630.1,527.4 630.7,529.1 631.4,528.8 632,529 632.5,526.7 633,526.6 633.5,527.4 634,528.7 634.5,527.9 635,527.1 635.6,528.3 636.3,529.4 636.9,529.9 637.6,530.2 638.3,530.2 639,531.5 639.7,531.9 640.3,530.8 641,532.7 641.7,535.7 642.3,535.8 643,536.9 643.7,538 644.3,538.2 645,539.7 645.7,540.5 646.3,541.1 647,541.6 647.7,541.7 648.4,542.3 649.1,542.8 649.8,543.1 650.4,543.3 651,543.5 651.3,543.7 651.2,543.8 651.1,543.9 651.2,543.9 651.8,544 653,544 655.3,544 658.5,544 662.1,544 665.7,544 668.9,544 671,544 L671,544 L571.3,544Z" fill="#ec8200"/><path d="M571.3,544 572.3,544 573.8,544 575.5,544 577.3,544 578.8,544 580,544 580.7,543.9 581,543.7 581.2,543.5 581.3,543.3 581.5,543.1 582,543 582.8,542.9 583.8,542.8 584.9,542.7 586,542.6 587.1,542.5 588,542.5 588.8,542.5 589.6,542.6 590.2,542.7 590.9,542.8 591.5,542.9 592,543 592.4,543.2 592.8,543.4 593.1,543.6 593.4,543.8 593.7,543.8 594,543.5 594.3,543.1 594.7,542.6 595,542 595.3,540.9 595.7,539.7 596,536.8 596.3,536.5 596.7,533.3 597,528.9 597.3,526.9 597.6,521.8 598,520 598.4,516.7 598.8,514.2 599.2,512.3 599.6,508.5 600,500.6 600.4,499.1 600.8,495 601.3,489.9 601.7,485.8 602.1,480.4 602.6,478.3 603,474.4 603.4,468.5 603.9,467.3 604.3,465.8 604.7,460.7 605.2,459.4 605.6,456.6 606,459.8 606.4,462.4 606.8,463.8 607.2,463.6 607.6,470.4 608,473.7 608.4,477.8 608.8,481.7 609.2,485.2 609.6,489.2 610,498.4 610.4,498 610.8,503.8 611.2,507.8 611.7,507.8 612.1,514.4 612.5,515 613,519 613.5,523.6 613.9,524.4 614.4,526.3 614.9,528.9 615.4,532.4 616,532.3 616.6,533.5 617.3,535.2 617.9,534.2 618.6,536.3 619.3,536.9 620,537.2 620.7,537.5 621.3,537.4 622,536.5 622.7,535.9 623.3,535.9 624,535.1 624.7,535.4 625.3,533.4 626,533.6 626.7,532.1 627.3,532.3 628,531.4 628.7,530.3 629.4,531 630.1,527.4 630.7,529.1 631.4,528.8 632,529 632.5,526.7 633,526.6 633.5,527.4 634,528.7 634.5,527.9 635,527.1 635.6,528.3 636.3,529.4 636.9,529.9 637.6,530.2 638.3,530.2 639,531.5 639.7,531.9 640.3,530.8 641,532.7 641.7,535.7 642.3,535.8 643,536.9 643.7,538 644.3,538.2 645,539.7 645.7,540.5 646.3,541.1 647,541.6 647.7,541.7 648.4,542.3 649.1,542.8 649.8,543.1 650.4,543.3 651,543.5 651.3,543.7 651.2,543.8 651.1,543.9 651.2,543.9 651.8,544 653,544 655.3,544 658.5,544 662.1,544 665.7,544 668.9,544 671,544" fill="none" stroke="#1a1a1a" stroke-width="1" stroke-linejoin="bevel"/></g>
<path d="M567.6 544V457.6H683V544M565.6 544H567.6" fill="none" stroke="#555" stroke-width=".9"/>
<path d="M565.4 499H567.6M579.8 544v2M590.9 544v2M602.1 544v2M613.2 544v2M624.4 544v2M635.5 544v2M646.6 544v2M657.8 544v2M669 544v2" stroke="#444" stroke-width=".8"/>
<text x="563.1" y="468.2" font-size="5.8" font-weight="bold" text-anchor="end" fill="#222">192</text>
<text x="569.9" y="552.6" font-size="5.4" font-weight="bold" text-anchor="middle" fill="#222">0</text>
<text x="683" y="552.6" font-size="5.4" font-weight="bold" text-anchor="end" fill="#222">1023</text>
<text x="621.4" y="562.5" font-size="5.5" font-weight="bold" text-anchor="middle" fill="#222">7-AAD FI</text>
<path d="M591.6 476.6H616.6M591.6 474.4v4.4M616.6 474.4v4.4" stroke="#222" stroke-width="1.1"/>
<text x="604.1" y="471.6" font-size="5.6" text-anchor="middle" fill="#333">75.7% (****)</text>
<path d="M623.6 496H651.6M623.6 493.8v4.4M651.6 493.8v4.4" stroke="#222" stroke-width="1.1"/>
<text x="637.6" y="491" font-size="5.6" text-anchor="middle" fill="#333">17.1% (****)</text>
<path d="M617 521H623.6M617 518.8v4.4M623.6 518.8v4.4" stroke="#222" stroke-width="1.1"/>
<text x="620.3" y="516" font-size="5.6" text-anchor="middle" fill="#333">7.5%</text>
<clipPath id="hc30"><rect x="430.4" y="571.8" width="115.4" height="86.6"/></clipPath>
<path d="M434.1 658.4H533.8" stroke="#888" stroke-width="1"/>
<g clip-path="url(#hc30)"><path d="M434.1,658.4 435,658.4 436.4,658.4 437.9,658.4 439.5,658.4 440.9,658.4 442,658.4 442.6,658.3 443,658.1 443.1,657.9 443.3,657.7 443.5,657.5 444,657.4 444.8,657.3 445.7,657.2 446.8,657.1 447.9,657 449,656.9 450,656.9 451.1,656.9 452.2,657 453.3,657.2 454.4,657.3 455.3,657.4 456,657.4 456.4,657.4 456.7,657.4 456.8,657.4 456.8,657.2 456.8,656.9 457,656.8 457.3,655.8 457.6,655.1 457.9,653.3 458.3,652.4 458.7,650.5 459,649.4 459.3,648.8 459.7,644.7 460,642.4 460.3,639.6 460.7,638.9 461,635.3 461.3,634.2 461.7,632.3 462,629.2 462.3,627.6 462.7,627.7 463,627.6 463.3,627.6 463.6,624.4 463.9,621.7 464.3,623 464.6,625.9 465,624.5 465.4,623.8 465.9,623.7 466.4,626.2 467,629.2 467.5,631.4 468,634.6 468.5,635.6 469,637.3 469.5,639.5 470,640.5 470.5,642.4 471,643.1 471.5,643.4 472,645 472.5,646.1 473,647.2 473.5,648.5 474,647.5 474.5,646.7 475,647.3 475.6,644.7 476.1,644.8 476.6,642.8 477,641.7 477.4,640.5 477.7,634.8 478.1,635.4 478.4,630.2 478.7,629 479,625 479.3,623.6 479.6,620.3 479.9,615.5 480.3,610.9 480.6,611.9 481,607.4 481.5,602.2 482,600.8 482.5,594.4 483,593.1 483.5,587.1 484,584.6 484.4,581.2 484.7,581.6 485.1,583.8 485.4,579.7 485.7,582.5 486,577.9 486.3,575 486.7,575 487,575.4 487.3,570.8 487.7,571.3 488,574 488.3,573 488.6,571 488.9,576.8 489.3,578.4 489.6,581.8 490,586.6 490.4,586.3 490.9,586.6 491.4,588.8 492,591.4 492.5,597 493,593.3 493.5,596.6 494,598.8 494.5,601.2 495,606.8 495.5,609.7 496,610.9 496.5,611.4 497,618.6 497.5,618.8 498,621.8 498.5,622.4 499,623.5 499.5,628.1 500,631.7 500.5,632.6 501,635.3 501.5,638.9 502,638.6 502.5,641.8 503,642.6 503.5,646 504,645.7 504.5,649 505,648.7 505.5,651.8 506,651.1 506.6,653.1 507.1,654.6 507.6,654.8 508,655.3 508.4,656.3 508.7,656.6 509.1,656.6 509.4,657 509.7,657.2 510,657.4 510.1,657.6 509.9,657.8 509.8,658 509.9,658.2 510.5,658.3 512,658.4 514.7,658.4 518.6,658.4 523,658.4 527.4,658.4 531.2,658.4 533.8,658.4 L533.8,658.4 L434.1,658.4Z" fill="#a0a0a0"/><path d="M434.1,658.4 435,658.4 436.4,658.4 437.9,658.4 439.5,658.4 440.9,658.4 442,658.4 442.6,658.3 443,658.1 443.1,657.9 443.3,657.7 443.5,657.5 444,657.4 444.8,657.3 445.7,657.2 446.8,657.1 447.9,657 449,656.9 450,656.9 451.1,656.9 452.2,657 453.3,657.2 454.4,657.3 455.3,657.4 456,657.4 456.4,657.4 456.7,657.4 456.8,657.4 456.8,657.2 456.8,656.9 457,656.8 457.3,655.8 457.6,655.1 457.9,653.3 458.3,652.4 458.7,650.5 459,649.4 459.3,648.8 459.7,644.7 460,642.4 460.3,639.6 460.7,638.9 461,635.3 461.3,634.2 461.7,632.3 462,629.2 462.3,627.6 462.7,627.7 463,627.6 463.3,627.6 463.6,624.4 463.9,621.7 464.3,623 464.6,625.9 465,624.5 465.4,623.8 465.9,623.7 466.4,626.2 467,629.2 467.5,631.4 468,634.6 468.5,635.6 469,637.3 469.5,639.5 470,640.5 470.5,642.4 471,643.1 471.5,643.4 472,645 472.5,646.1 473,647.2 473.5,648.5 474,647.5 474.5,646.7 475,647.3 475.6,644.7 476.1,644.8 476.6,642.8 477,641.7 477.4,640.5 477.7,634.8 478.1,635.4 478.4,630.2 478.7,629 479,625 479.3,623.6 479.6,620.3 479.9,615.5 480.3,610.9 480.6,611.9 481,607.4 481.5,602.2 482,600.8 482.5,594.4 483,593.1 483.5,587.1 484,584.6 484.4,581.2 484.7,581.6 485.1,583.8 485.4,579.7 485.7,582.5 486,577.9 486.3,575 486.7,575 487,575.4 487.3,570.8 487.7,571.3 488,574 488.3,573 488.6,571 488.9,576.8 489.3,578.4 489.6,581.8 490,586.6 490.4,586.3 490.9,586.6 491.4,588.8 492,591.4 492.5,597 493,593.3 493.5,596.6 494,598.8 494.5,601.2 495,606.8 495.5,609.7 496,610.9 496.5,611.4 497,618.6 497.5,618.8 498,621.8 498.5,622.4 499,623.5 499.5,628.1 500,631.7 500.5,632.6 501,635.3 501.5,638.9 502,638.6 502.5,641.8 503,642.6 503.5,646 504,645.7 504.5,649 505,648.7 505.5,651.8 506,651.1 506.6,653.1 507.1,654.6 507.6,654.8 508,655.3 508.4,656.3 508.7,656.6 509.1,656.6 509.4,657 509.7,657.2 510,657.4 510.1,657.6 509.9,657.8 509.8,658 509.9,658.2 510.5,658.3 512,658.4 514.7,658.4 518.6,658.4 523,658.4 527.4,658.4 531.2,658.4 533.8,658.4" fill="none" stroke="#1a1a1a" stroke-width="1" stroke-linejoin="bevel"/></g>
<path d="M430.4 658.4V571.8H545.8V658.4M428.4 658.4H430.4" fill="none" stroke="#555" stroke-width=".9"/>
<path d="M428.2 594.7H430.4M442.5 658.4v2M453.7 658.4v2M464.8 658.4v2M476 658.4v2M487.1 658.4v2M498.3 658.4v2M509.4 658.4v2M520.6 658.4v2M531.8 658.4v2" stroke="#444" stroke-width=".8"/>
<text x="425.9" y="582.4" font-size="5.8" font-weight="bold" text-anchor="end" fill="#222">136</text>
<text x="432.7" y="667" font-size="5.4" font-weight="bold" text-anchor="middle" fill="#222">0</text>
<text x="545.8" y="667" font-size="5.4" font-weight="bold" text-anchor="end" fill="#222">1023</text>
<text x="485.4" y="677.2" font-size="5.5" font-weight="bold" text-anchor="middle" fill="#222">7-AAD FI</text>
<path d="M454.6 591.6H472.6M454.6 589.4v4.4M472.6 589.4v4.4" stroke="#222" stroke-width="1.1"/>
<text x="463.6" y="586.6" font-size="5.6" text-anchor="middle" fill="#333">18.4% (****)</text>
<path d="M478 609H512.4M478 606.8v4.4M512.4 606.8v4.4" stroke="#222" stroke-width="1.1"/>
<text x="495.2" y="604" font-size="5.6" text-anchor="middle" fill="#333">75.9% (****)</text>
<path d="M471.6 635.6H478M471.6 633.4v4.4M478 633.4v4.4" stroke="#222" stroke-width="1.1"/>
<text x="474.8" y="630.6" font-size="5.6" text-anchor="middle" fill="#333">5.7%</text>
<clipPath id="hc31"><rect x="567.6" y="573" width="115.4" height="86.6"/></clipPath>
<path d="M571.3 659.6H671" stroke="#888" stroke-width="1"/>
<g clip-path="url(#hc31)"><path d="M571.3,659.6 573.2,659.6 576,659.6 579.3,659.6 582.6,659.6 585.6,659.6 588,659.6 589.7,659.6 590.9,659.6 591.9,659.6 592.7,659.6 593.4,659.5 594,659.1 594.6,658.5 595,657.9 595.2,658.1 595.5,656.2 595.7,654.4 596,652.8 596.3,650.3 596.7,649.1 597,643.9 597.3,642.4 597.6,639.8 598,635.9 598.4,632.6 598.8,630.1 599.2,627.3 599.6,621.3 600,618.3 600.4,617.8 600.8,612.7 601.2,606.2 601.7,602.6 602.1,598.1 602.5,593.5 603,590.7 603.5,584.3 604,584.4 604.5,580.2 605.1,575.5 605.6,572.3 606,572 606.4,572 606.7,577.1 607,577.1 607.3,582.3 607.7,589.2 608,591.3 608.4,591.1 608.8,597.5 609.2,603.9 609.6,611.2 610,612.5 610.4,616 610.8,618.1 611.2,618 611.6,622.8 612,625.9 612.5,629.9 613,632.4 613.6,633.6 614.3,636.3 615,635 615.7,640.4 616.4,642 617,641 617.6,641.6 618.1,641.7 618.6,637.5 619,637.1 619.5,636.2 620,632.6 620.5,630.8 621,630 621.4,627 621.9,625.1 622.4,625.7 623,625.7 623.6,624.9 624.2,620.5 624.9,617.5 625.6,616.7 626.3,615 627,613.3 627.7,614.9 628.5,612.2 629.3,614.9 630.1,610.7 630.9,610.5 631.6,611.1 632.2,612.1 632.8,614 633.3,613.3 633.9,613 634.4,617 635,617.2 635.6,620.5 636.3,621 637,624.5 637.6,624.6 638.3,627.3 639,628.6 639.7,631.7 640.3,634.3 641,635.3 641.7,635.9 642.3,637.4 643,641.3 643.7,642.4 644.3,644.6 645,647.1 645.7,650.5 646.3,651.1 647,653.5 647.7,653.8 648.4,655.3 649.1,656.5 649.8,658.4 650.4,658.4 651,659 651.3,659.4 651.2,659.6 651.1,659.6 651.2,659.6 651.8,659.6 653,659.6 655.3,659.6 658.5,659.6 662.1,659.6 665.7,659.6 668.9,659.6 671,659.6 L671,659.6 L571.3,659.6Z" fill="#ec8200"/><path d="M571.3,659.6 573.2,659.6 576,659.6 579.3,659.6 582.6,659.6 585.6,659.6 588,659.6 589.7,659.6 590.9,659.6 591.9,659.6 592.7,659.6 593.4,659.5 594,659.1 594.6,658.5 595,657.9 595.2,658.1 595.5,656.2 595.7,654.4 596,652.8 596.3,650.3 596.7,649.1 597,643.9 597.3,642.4 597.6,639.8 598,635.9 598.4,632.6 598.8,630.1 599.2,627.3 599.6,621.3 600,618.3 600.4,617.8 600.8,612.7 601.2,606.2 601.7,602.6 602.1,598.1 602.5,593.5 603,590.7 603.5,584.3 604,584.4 604.5,580.2 605.1,575.5 605.6,572.3 606,572 606.4,572 606.7,577.1 607,577.1 607.3,582.3 607.7,589.2 608,591.3 608.4,591.1 608.8,597.5 609.2,603.9 609.6,611.2 610,612.5 610.4,616 610.8,618.1 611.2,618 611.6,622.8 612,625.9 612.5,629.9 613,632.4 613.6,633.6 614.3,636.3 615,635 615.7,640.4 616.4,642 617,641 617.6,641.6 618.1,641.7 618.6,637.5 619,637.1 619.5,636.2 620,632.6 620.5,630.8 621,630 621.4,627 621.9,625.1 622.4,625.7 623,625.7 623.6,624.9 624.2,620.5 624.9,617.5 625.6,616.7 626.3,615 627,613.3 627.7,614.9 628.5,612.2 629.3,614.9 630.1,610.7 630.9,610.5 631.6,611.1 632.2,612.1 632.8,614 633.3,613.3 633.9,613 634.4,617 635,617.2 635.6,620.5 636.3,621 637,624.5 637.6,624.6 638.3,627.3 639,628.6 639.7,631.7 640.3,634.3 641,635.3 641.7,635.9 642.3,637.4 643,641.3 643.7,642.4 644.3,644.6 645,647.1 645.7,650.5 646.3,651.1 647,653.5 647.7,653.8 648.4,655.3 649.1,656.5 649.8,658.4 650.4,658.4 651,659 651.3,659.4 651.2,659.6 651.1,659.6 651.2,659.6 651.8,659.6 653,659.6 655.3,659.6 658.5,659.6 662.1,659.6 665.7,659.6 668.9,659.6 671,659.6" fill="none" stroke="#1a1a1a" stroke-width="1" stroke-linejoin="bevel"/></g>
<path d="M567.6 659.6V573H683V659.6M565.6 659.6H567.6" fill="none" stroke="#555" stroke-width=".9"/>
<path d="M565.4 588.6H567.6M579.8 659.6v2M590.9 659.6v2M602.1 659.6v2M613.2 659.6v2M624.4 659.6v2M635.5 659.6v2M646.6 659.6v2M657.8 659.6v2M669 659.6v2" stroke="#444" stroke-width=".8"/>
<text x="563.1" y="583.6" font-size="5.8" font-weight="bold" text-anchor="end" fill="#222">122</text>
<text x="569.9" y="668.2" font-size="5.4" font-weight="bold" text-anchor="middle" fill="#222">0</text>
<text x="683" y="668.2" font-size="5.4" font-weight="bold" text-anchor="end" fill="#222">1023</text>
<text x="621.4" y="677.2" font-size="5.5" font-weight="bold" text-anchor="middle" fill="#222">7-AAD FI</text>
<path d="M591.6 590H615.4M591.6 587.8v4.4M615.4 587.8v4.4" stroke="#222" stroke-width="1.1"/>
<text x="603.5" y="585" font-size="5.6" text-anchor="middle" fill="#333">44.8% (****)</text>
<path d="M622.6 608.6H651M622.6 606.4v4.4M651 606.4v4.4" stroke="#222" stroke-width="1.1"/>
<text x="636.8" y="603.6" font-size="5.6" text-anchor="middle" fill="#333">43.1% (***)</text>
<path d="M616 634H621.6M616 631.8v4.4M621.6 631.8v4.4" stroke="#222" stroke-width="1.1"/>
<text x="618.8" y="629" font-size="5.6" text-anchor="middle" fill="#333">3.5%</text>
<clipPath id="hc40"><rect x="430.4" y="687.8" width="115.4" height="87.4"/></clipPath>
<path d="M434.1 775.2H533.8" stroke="#888" stroke-width="1"/>
<g clip-path="url(#hc40)"><path d="M434.1,775.2 435,775.2 436.4,775.2 437.9,775.2 439.5,775.2 440.9,775.2 442,775.2 442.6,775.1 443,774.9 443.1,774.8 443.3,774.6 443.5,774.4 444,774.2 444.8,774 445.7,773.9 446.8,773.5 447.9,773.3 449,773.8 450,773.1 451.1,773.4 452.2,773.6 453.3,773.8 454.4,773.9 455.3,774.1 456,774.2 456.4,774.4 456.6,774.6 456.7,774.9 456.7,774.9 456.8,774.8 457,774.2 457.4,773.5 457.9,772.4 458.4,770.7 458.9,767.1 459.5,766.7 460,764.5 460.5,762.6 461,759.7 461.5,756.5 462,753.7 462.5,748.6 463,746.9 463.5,742.6 464,742.3 464.6,736.7 465.1,735.3 465.6,731.8 466,730.8 466.4,730 466.7,724.9 467,725.9 467.3,724.2 467.6,724.7 468,722.9 468.4,724.6 468.9,725.1 469.4,727.2 470,731.1 470.5,734.5 471,734 471.5,735.3 472,737.7 472.4,742.2 472.9,742 473.4,744.2 474,746.3 474.6,748.1 475.3,751.2 476,752.9 476.7,754.1 477.4,756.7 478,758 478.6,756 479.1,754.3 479.6,754.3 480,750.6 480.5,746.5 481,744.8 481.5,741.9 482,740.9 482.5,735.1 483,730.8 483.5,730.3 484,727.7 484.5,724.6 485,717 485.5,713.8 486,711.1 486.5,703.5 487,701.2 487.5,699.2 488,702.1 488.5,697.7 489,695.3 489.5,698.1 490,692.8 490.6,690.4 491.2,689.7 491.8,691.8 492.5,690.6 493.1,686.8 493.6,686.8 494.1,686.8 494.5,687.3 494.8,691.3 495.2,693.7 495.6,698.4 496,695.1 496.5,694.2 497,701.5 497.5,703.8 498,704.1 498.5,707.2 499,713 499.5,714.9 500,718.8 500.5,717.2 501,725.1 501.5,726.1 502,727.8 502.5,730.8 503,734.3 503.5,736.8 504,743.1 504.5,744.5 505,747.5 505.5,749.4 506,748.8 506.5,755.7 507,755.8 507.5,759.6 508,759.5 508.5,761.6 509,764.8 509.6,764.9 510.1,767.8 510.6,768.7 511,770.5 511.4,771.8 511.7,772.5 512.1,773 512.4,773.2 512.7,773.8 513,774.2 513.1,774.5 513,774.8 512.9,774.9 513.1,775 513.7,775.1 515,775.2 517.4,775.2 520.7,775.2 524.5,775.2 528.3,775.2 531.6,775.2 533.8,775.2 L533.8,775.2 L434.1,775.2Z" fill="#c2c2c2"/><path d="M434.1,775.2 435,775.2 436.4,775.2 437.9,775.2 439.5,775.2 440.9,775.2 442,775.2 442.6,775.1 443,774.9 443.1,774.8 443.3,774.6 443.5,774.4 444,774.2 444.8,774 445.7,773.9 446.8,773.5 447.9,773.3 449,773.8 450,773.1 451.1,773.4 452.2,773.6 453.3,773.8 454.4,773.9 455.3,774.1 456,774.2 456.4,774.4 456.6,774.6 456.7,774.9 456.7,774.9 456.8,774.8 457,774.2 457.4,773.5 457.9,772.4 458.4,770.7 458.9,767.1 459.5,766.7 460,764.5 460.5,762.6 461,759.7 461.5,756.5 462,753.7 462.5,748.6 463,746.9 463.5,742.6 464,742.3 464.6,736.7 465.1,735.3 465.6,731.8 466,730.8 466.4,730 466.7,724.9 467,725.9 467.3,724.2 467.6,724.7 468,722.9 468.4,724.6 468.9,725.1 469.4,727.2 470,731.1 470.5,734.5 471,734 471.5,735.3 472,737.7 472.4,742.2 472.9,742 473.4,744.2 474,746.3 474.6,748.1 475.3,751.2 476,752.9 476.7,754.1 477.4,756.7 478,758 478.6,756 479.1,754.3 479.6,754.3 480,750.6 480.5,746.5 481,744.8 481.5,741.9 482,740.9 482.5,735.1 483,730.8 483.5,730.3 484,727.7 484.5,724.6 485,717 485.5,713.8 486,711.1 486.5,703.5 487,701.2 487.5,699.2 488,702.1 488.5,697.7 489,695.3 489.5,698.1 490,692.8 490.6,690.4 491.2,689.7 491.8,691.8 492.5,690.6 493.1,686.8 493.6,686.8 494.1,686.8 494.5,687.3 494.8,691.3 495.2,693.7 495.6,698.4 496,695.1 496.5,694.2 497,701.5 497.5,703.8 498,704.1 498.5,707.2 499,713 499.5,714.9 500,718.8 500.5,717.2 501,725.1 501.5,726.1 502,727.8 502.5,730.8 503,734.3 503.5,736.8 504,743.1 504.5,744.5 505,747.5 505.5,749.4 506,748.8 506.5,755.7 507,755.8 507.5,759.6 508,759.5 508.5,761.6 509,764.8 509.6,764.9 510.1,767.8 510.6,768.7 511,770.5 511.4,771.8 511.7,772.5 512.1,773 512.4,773.2 512.7,773.8 513,774.2 513.1,774.5 513,774.8 512.9,774.9 513.1,775 513.7,775.1 515,775.2 517.4,775.2 520.7,775.2 524.5,775.2 528.3,775.2 531.6,775.2 533.8,775.2" fill="none" stroke="#1a1a1a" stroke-width="1" stroke-linejoin="bevel"/></g>
<path d="M430.4 775.2V687.8H545.8V775.2M428.4 775.2H430.4" fill="none" stroke="#555" stroke-width=".9"/>
<path d="M428.2 695H430.4M442.5 775.2v2M453.7 775.2v2M464.8 775.2v2M476 775.2v2M487.1 775.2v2M498.3 775.2v2M509.4 775.2v2M520.6 775.2v2M531.8 775.2v2" stroke="#444" stroke-width=".8"/>
<text x="425.9" y="698.4" font-size="5.8" font-weight="bold" text-anchor="end" fill="#222">109</text>
<text x="432.7" y="783.8" font-size="5.4" font-weight="bold" text-anchor="middle" fill="#222">0</text>
<text x="545.8" y="783.8" font-size="5.4" font-weight="bold" text-anchor="end" fill="#222">1023</text>
<text x="485.4" y="790.5" font-size="5.5" font-weight="bold" text-anchor="middle" fill="#222">7-AAD FI</text>
<path d="M459 704.4H477.6M459 702.2v4.4M477.6 702.2v4.4" stroke="#222" stroke-width="1.1"/>
<text x="468.3" y="699.4" font-size="5.6" text-anchor="middle" fill="#333">27.9% (****)</text>
<path d="M481.6 722.6H516.6M481.6 720.4v4.4M516.6 720.4v4.4" stroke="#222" stroke-width="1.1"/>
<text x="499.1" y="717.6" font-size="5.6" text-anchor="middle" fill="#333">67.3% (****)</text>
<path d="M477.6 748H481.6M477.6 745.8v4.4M481.6 745.8v4.4" stroke="#222" stroke-width="1.1"/>
<text x="479.6" y="743" font-size="5.6" text-anchor="middle" fill="#333">4.8%</text>
<clipPath id="hc41"><rect x="567.6" y="688.2" width="115.4" height="88"/></clipPath>
<path d="M571.3 776.2H671" stroke="#888" stroke-width="1"/>
<g clip-path="url(#hc41)"><path d="M571.3,776.2 572.6,776.2 574.4,776.2 576.5,776.2 578.7,776.2 580.6,776.2 582,776.2 582.8,776.1 583.2,775.9 583.4,775.7 583.5,775.5 583.7,775.3 584,775.2 584.6,775.1 585.3,775.1 586,775 586.7,775 587.4,775 588,775 588.4,775.1 588.8,775.3 589.1,775.6 589.3,775.7 589.6,775.6 590,775.2 590.4,774.5 590.9,773 591.4,773 592,771.8 592.5,770.4 593,768.3 593.5,766.1 594,762.4 594.5,757 595,753.8 595.5,749.9 596,745.4 596.4,740.5 596.9,737 597.3,732.6 597.7,730.4 598,726 598.4,723.1 598.8,718.3 599.1,715.9 599.5,711.6 599.8,708 600.1,705 600.4,702.3 600.7,700.1 600.9,694 601.2,694.9 601.5,694.4 601.7,690.7 602,693 602.3,693.6 602.6,692.9 602.9,698.5 603.3,704.2 603.6,700.3 604,701.9 604.4,710.1 604.8,712.4 605.2,713.7 605.6,722 606,723.9 606.4,727.7 606.8,728.9 607.2,733.9 607.7,731.9 608.1,735.6 608.5,737.1 609,740.2 609.5,745.3 610,746 610.5,750.6 611,752 611.5,754.9 612,755.1 612.4,754.4 612.8,751.5 613.2,748.9 613.6,747.8 614,743.2 614.4,737.9 614.8,735.5 615.2,733.2 615.7,728 616.1,724.1 616.5,717.9 617,715.7 617.5,711.9 618,705.5 618.5,709.2 619,706 619.5,705.1 620,702.9 620.5,696.6 621,696.5 621.5,692.9 622,699.3 622.5,696.4 623,690.9 623.5,690.6 623.9,689.5 624.4,688.1 624.8,688.7 625.2,688.2 625.6,688.1 626,687.6 626.3,691.7 626.6,693.2 627,693.5 627.3,700.7 627.6,701.2 627.9,698.9 628.3,699.9 628.6,698.6 628.9,693.2 629.2,695.8 629.6,697.6 630,695.6 630.3,694.4 630.7,703.2 631.1,704.5 631.6,705.3 632,709 632.5,706.3 633,711.8 633.5,716.2 634,717.5 634.5,722.4 635,724.8 635.5,726.3 636,725.5 636.4,735 636.9,733.7 637.4,735.2 638,738.8 638.6,740.3 639.3,745.3 639.9,748.9 640.6,752.3 641.3,756 642,756.3 642.7,761.3 643.4,762.6 644.1,765 644.7,767 645.4,769.6 646,770 646.6,771.1 647.1,772.2 647.6,772.9 648.1,774 648.6,774.8 649,775.2 649.2,775.6 649.1,775.9 648.9,776 649,776.1 649.6,776.1 651,776.2 653.5,776.2 657.1,776.2 661.1,776.2 665.1,776.2 668.6,776.2 671,776.2 L671,776.2 L571.3,776.2Z" fill="#ec8200"/><path d="M571.3,776.2 572.6,776.2 574.4,776.2 576.5,776.2 578.7,776.2 580.6,776.2 582,776.2 582.8,776.1 583.2,775.9 583.4,775.7 583.5,775.5 583.7,775.3 584,775.2 584.6,775.1 585.3,775.1 586,775 586.7,775 587.4,775 588,775 588.4,775.1 588.8,775.3 589.1,775.6 589.3,775.7 589.6,775.6 590,775.2 590.4,774.5 590.9,773 591.4,773 592,771.8 592.5,770.4 593,768.3 593.5,766.1 594,762.4 594.5,757 595,753.8 595.5,749.9 596,745.4 596.4,740.5 596.9,737 597.3,732.6 597.7,730.4 598,726 598.4,723.1 598.8,718.3 599.1,715.9 599.5,711.6 599.8,708 600.1,705 600.4,702.3 600.7,700.1 600.9,694 601.2,694.9 601.5,694.4 601.7,690.7 602,693 602.3,693.6 602.6,692.9 602.9,698.5 603.3,704.2 603.6,700.3 604,701.9 604.4,710.1 604.8,712.4 605.2,713.7 605.6,722 606,723.9 606.4,727.7 606.8,728.9 607.2,733.9 607.7,731.9 608.1,735.6 608.5,737.1 609,740.2 609.5,745.3 610,746 610.5,750.6 611,752 611.5,754.9 612,755.1 612.4,754.4 612.8,751.5 613.2,748.9 613.6,747.8 614,743.2 614.4,737.9 614.8,735.5 615.2,733.2 615.7,728 616.1,724.1 616.5,717.9 617,715.7 617.5,711.9 618,705.5 618.5,709.2 619,706 619.5,705.1 620,702.9 620.5,696.6 621,696.5 621.5,692.9 622,699.3 622.5,696.4 623,690.9 623.5,690.6 623.9,689.5 624.4,688.1 624.8,688.7 625.2,688.2 625.6,688.1 626,687.6 626.3,691.7 626.6,693.2 627,693.5 627.3,700.7 627.6,701.2 627.9,698.9 628.3,699.9 628.6,698.6 628.9,693.2 629.2,695.8 629.6,697.6 630,695.6 630.3,694.4 630.7,703.2 631.1,704.5 631.6,705.3 632,709 632.5,706.3 633,711.8 633.5,716.2 634,717.5 634.5,722.4 635,724.8 635.5,726.3 636,725.5 636.4,735 636.9,733.7 637.4,735.2 638,738.8 638.6,740.3 639.3,745.3 639.9,748.9 640.6,752.3 641.3,756 642,756.3 642.7,761.3 643.4,762.6 644.1,765 644.7,767 645.4,769.6 646,770 646.6,771.1 647.1,772.2 647.6,772.9 648.1,774 648.6,774.8 649,775.2 649.2,775.6 649.1,775.9 648.9,776 649,776.1 649.6,776.1 651,776.2 653.5,776.2 657.1,776.2 661.1,776.2 665.1,776.2 668.6,776.2 671,776.2" fill="none" stroke="#1a1a1a" stroke-width="1" stroke-linejoin="bevel"/></g>
<path d="M567.6 776.2V688.2H683V776.2M565.6 776.2H567.6" fill="none" stroke="#555" stroke-width=".9"/>
<path d="M565.4 766.7H567.6M565.4 757.3H567.6M565.4 747.8H567.6M565.4 738.4H567.6M565.4 728.9H567.6M565.4 719.4H567.6M565.4 710H567.6M565.4 700.5H567.6M565.4 691H567.6M579.8 776.2v2M590.9 776.2v2M602.1 776.2v2M613.2 776.2v2M624.4 776.2v2M635.5 776.2v2M646.6 776.2v2M657.8 776.2v2M669 776.2v2" stroke="#444" stroke-width=".8"/>
<text x="563.1" y="698.8" font-size="5.8" font-weight="bold" text-anchor="end" fill="#222">93</text>
<text x="569.9" y="784.8" font-size="5.4" font-weight="bold" text-anchor="middle" fill="#222">0</text>
<text x="683" y="784.8" font-size="5.4" font-weight="bold" text-anchor="end" fill="#222">1023</text>
<text x="621.4" y="790.5" font-size="5.5" font-weight="bold" text-anchor="middle" fill="#222">7-AAD FI</text>
<path d="M588.6 704H610M588.6 701.8v4.4M610 701.8v4.4" stroke="#222" stroke-width="1.1"/>
<text x="599.3" y="699" font-size="5.6" text-anchor="middle" fill="#333">34.1% (****)</text>
<path d="M613.6 722.6H651.6M613.6 720.4v4.4M651.6 720.4v4.4" stroke="#222" stroke-width="1.1"/>
<text x="632.6" y="717.6" font-size="5.6" text-anchor="middle" fill="#333">60.6% (***)</text>
<path d="M610 746H613.6M610 743.8v4.4M613.6 743.8v4.4" stroke="#222" stroke-width="1.1"/>
<text x="611.8" y="741" font-size="5.6" text-anchor="middle" fill="#333">5.3%</text>
</svg></body></html>
